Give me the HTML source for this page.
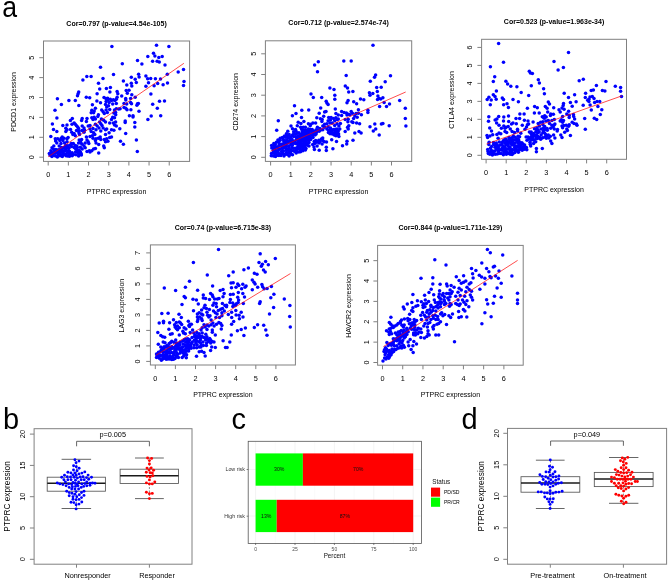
<!DOCTYPE html>
<html><head><meta charset="utf-8"><style>
html,body{margin:0;padding:0;background:#fff;}
svg{display:block;font-family:"Liberation Sans", sans-serif;will-change:transform;}
text{-webkit-font-smoothing:antialiased;}
body{-webkit-font-smoothing:antialiased;}
.g{will-change:transform;}
</style></head><body>
<svg width="668" height="583" viewBox="0 0 668 583">
<rect width="668" height="583" fill="#fff"/>
<text x="116.55" y="25.70" font-size="7" text-anchor="middle" fill="#000" font-weight="bold">Cor=0.797 (p-value=4.54e-105)</text>
<g fill="#0000ff">
<circle cx="111.9" cy="46.5" r="1.75"/>
<circle cx="100.5" cy="67.3" r="1.75"/>
<circle cx="113.5" cy="74.6" r="1.75"/>
<circle cx="86.8" cy="76.6" r="1.75"/>
<circle cx="91.1" cy="76.6" r="1.75"/>
<circle cx="82.9" cy="80.0" r="1.75"/>
<circle cx="103.0" cy="78.4" r="1.75"/>
<circle cx="98.5" cy="83.3" r="1.75"/>
<circle cx="99.7" cy="89.0" r="1.75"/>
<circle cx="106.4" cy="88.5" r="1.75"/>
<circle cx="110.4" cy="87.5" r="1.75"/>
<circle cx="109.9" cy="92.0" r="1.75"/>
<circle cx="117.1" cy="91.6" r="1.75"/>
<circle cx="97.1" cy="93.7" r="1.75"/>
<circle cx="78.7" cy="91.9" r="1.75"/>
<circle cx="78.1" cy="93.7" r="1.75"/>
<circle cx="77.5" cy="95.8" r="1.75"/>
<circle cx="86.3" cy="97.3" r="1.75"/>
<circle cx="89.7" cy="97.8" r="1.75"/>
<circle cx="104.0" cy="97.5" r="1.75"/>
<circle cx="107.6" cy="98.2" r="1.75"/>
<circle cx="105.9" cy="98.4" r="1.75"/>
<circle cx="111.5" cy="100.6" r="1.75"/>
<circle cx="114.9" cy="100.6" r="1.75"/>
<circle cx="117.1" cy="97.3" r="1.75"/>
<circle cx="156.5" cy="45.3" r="1.75"/>
<circle cx="168.9" cy="46.4" r="1.75"/>
<circle cx="153.5" cy="53.2" r="1.75"/>
<circle cx="154.9" cy="56.1" r="1.75"/>
<circle cx="147.8" cy="56.6" r="1.75"/>
<circle cx="158.8" cy="57.4" r="1.75"/>
<circle cx="162.2" cy="56.5" r="1.75"/>
<circle cx="137.5" cy="60.4" r="1.75"/>
<circle cx="152.6" cy="61.3" r="1.75"/>
<circle cx="157.1" cy="61.3" r="1.75"/>
<circle cx="159.3" cy="62.1" r="1.75"/>
<circle cx="141.9" cy="64.1" r="1.75"/>
<circle cx="122.3" cy="63.8" r="1.75"/>
<circle cx="165.0" cy="65.0" r="1.75"/>
<circle cx="183.5" cy="69.5" r="1.75"/>
<circle cx="178.2" cy="72.0" r="1.75"/>
<circle cx="167.3" cy="74.2" r="1.75"/>
<circle cx="138.6" cy="74.2" r="1.75"/>
<circle cx="139.1" cy="77.0" r="1.75"/>
<circle cx="145.9" cy="75.9" r="1.75"/>
<circle cx="131.3" cy="77.3" r="1.75"/>
<circle cx="147.6" cy="78.7" r="1.75"/>
<circle cx="150.7" cy="78.4" r="1.75"/>
<circle cx="135.2" cy="79.3" r="1.75"/>
<circle cx="136.3" cy="82.4" r="1.75"/>
<circle cx="155.4" cy="78.7" r="1.75"/>
<circle cx="160.5" cy="79.1" r="1.75"/>
<circle cx="123.4" cy="81.0" r="1.75"/>
<circle cx="131.3" cy="83.2" r="1.75"/>
<circle cx="131.8" cy="86.0" r="1.75"/>
<circle cx="126.8" cy="85.1" r="1.75"/>
<circle cx="148.5" cy="82.7" r="1.75"/>
<circle cx="157.7" cy="83.6" r="1.75"/>
<circle cx="154.1" cy="85.8" r="1.75"/>
<circle cx="145.9" cy="86.3" r="1.75"/>
<circle cx="163.1" cy="84.7" r="1.75"/>
<circle cx="167.5" cy="82.9" r="1.75"/>
<circle cx="184.0" cy="81.5" r="1.75"/>
<circle cx="183.5" cy="85.5" r="1.75"/>
<circle cx="126.2" cy="90.5" r="1.75"/>
<circle cx="129.0" cy="90.2" r="1.75"/>
<circle cx="117.8" cy="93.7" r="1.75"/>
<circle cx="127.3" cy="93.3" r="1.75"/>
<circle cx="131.8" cy="94.7" r="1.75"/>
<circle cx="150.9" cy="94.1" r="1.75"/>
<circle cx="121.7" cy="96.1" r="1.75"/>
<circle cx="125.7" cy="98.4" r="1.75"/>
<circle cx="135.2" cy="97.3" r="1.75"/>
<circle cx="57.4" cy="98.7" r="1.75"/>
<circle cx="68.9" cy="100.5" r="1.75"/>
<circle cx="75.3" cy="100.5" r="1.75"/>
<circle cx="61.4" cy="104.6" r="1.75"/>
<circle cx="78.8" cy="105.6" r="1.75"/>
<circle cx="55.0" cy="110.3" r="1.75"/>
<circle cx="56.9" cy="118.1" r="1.75"/>
<circle cx="72.3" cy="118.5" r="1.75"/>
<circle cx="70.4" cy="120.5" r="1.75"/>
<circle cx="82.2" cy="118.4" r="1.75"/>
<circle cx="81.6" cy="120.5" r="1.75"/>
<circle cx="52.4" cy="124.0" r="1.75"/>
<circle cx="62.8" cy="125.4" r="1.75"/>
<circle cx="67.0" cy="125.1" r="1.75"/>
<circle cx="72.0" cy="124.3" r="1.75"/>
<circle cx="74.1" cy="122.9" r="1.75"/>
<circle cx="75.3" cy="124.3" r="1.75"/>
<circle cx="76.5" cy="125.8" r="1.75"/>
<circle cx="77.7" cy="127.0" r="1.75"/>
<circle cx="78.6" cy="128.5" r="1.75"/>
<circle cx="53.5" cy="129.6" r="1.75"/>
<circle cx="65.8" cy="128.2" r="1.75"/>
<circle cx="70.5" cy="129.6" r="1.75"/>
<circle cx="67.0" cy="129.7" r="1.75"/>
<circle cx="56.8" cy="131.5" r="1.75"/>
<circle cx="65.8" cy="131.5" r="1.75"/>
<circle cx="82.2" cy="126.1" r="1.75"/>
<circle cx="78.9" cy="130.9" r="1.75"/>
<circle cx="96.9" cy="101.0" r="1.75"/>
<circle cx="100.5" cy="102.7" r="1.75"/>
<circle cx="92.4" cy="104.7" r="1.75"/>
<circle cx="107.9" cy="99.8" r="1.75"/>
<circle cx="110.3" cy="99.2" r="1.75"/>
<circle cx="113.3" cy="99.8" r="1.75"/>
<circle cx="116.3" cy="99.2" r="1.75"/>
<circle cx="106.1" cy="101.6" r="1.75"/>
<circle cx="109.1" cy="102.5" r="1.75"/>
<circle cx="112.7" cy="104.0" r="1.75"/>
<circle cx="116.3" cy="103.4" r="1.75"/>
<circle cx="105.5" cy="104.6" r="1.75"/>
<circle cx="106.7" cy="107.0" r="1.75"/>
<circle cx="108.5" cy="105.8" r="1.75"/>
<circle cx="109.7" cy="109.4" r="1.75"/>
<circle cx="106.1" cy="110.0" r="1.75"/>
<circle cx="95.4" cy="108.2" r="1.75"/>
<circle cx="91.8" cy="110.3" r="1.75"/>
<circle cx="94.2" cy="110.9" r="1.75"/>
<circle cx="91.2" cy="112.7" r="1.75"/>
<circle cx="93.6" cy="112.7" r="1.75"/>
<circle cx="101.7" cy="110.0" r="1.75"/>
<circle cx="103.1" cy="111.8" r="1.75"/>
<circle cx="104.3" cy="113.6" r="1.75"/>
<circle cx="107.3" cy="112.4" r="1.75"/>
<circle cx="114.5" cy="110.0" r="1.75"/>
<circle cx="116.3" cy="108.8" r="1.75"/>
<circle cx="113.9" cy="113.0" r="1.75"/>
<circle cx="115.7" cy="114.8" r="1.75"/>
<circle cx="98.4" cy="114.8" r="1.75"/>
<circle cx="97.8" cy="116.6" r="1.75"/>
<circle cx="91.8" cy="117.8" r="1.75"/>
<circle cx="94.2" cy="117.2" r="1.75"/>
<circle cx="95.4" cy="119.0" r="1.75"/>
<circle cx="93.0" cy="119.6" r="1.75"/>
<circle cx="87.0" cy="118.4" r="1.75"/>
<circle cx="86.4" cy="121.4" r="1.75"/>
<circle cx="101.4" cy="119.0" r="1.75"/>
<circle cx="103.7" cy="120.2" r="1.75"/>
<circle cx="105.5" cy="122.0" r="1.75"/>
<circle cx="99.6" cy="122.0" r="1.75"/>
<circle cx="100.8" cy="123.7" r="1.75"/>
<circle cx="111.5" cy="119.6" r="1.75"/>
<circle cx="112.7" cy="117.2" r="1.75"/>
<circle cx="114.5" cy="117.8" r="1.75"/>
<circle cx="109.7" cy="123.1" r="1.75"/>
<circle cx="113.3" cy="123.1" r="1.75"/>
<circle cx="114.5" cy="124.9" r="1.75"/>
<circle cx="116.3" cy="126.1" r="1.75"/>
<circle cx="84.0" cy="127.9" r="1.75"/>
<circle cx="88.2" cy="126.1" r="1.75"/>
<circle cx="90.0" cy="125.5" r="1.75"/>
<circle cx="95.4" cy="124.3" r="1.75"/>
<circle cx="97.2" cy="126.1" r="1.75"/>
<circle cx="99.0" cy="127.9" r="1.75"/>
<circle cx="102.0" cy="125.5" r="1.75"/>
<circle cx="103.1" cy="127.9" r="1.75"/>
<circle cx="105.5" cy="129.7" r="1.75"/>
<circle cx="106.7" cy="129.1" r="1.75"/>
<circle cx="111.5" cy="129.7" r="1.75"/>
<circle cx="113.9" cy="130.3" r="1.75"/>
<circle cx="84.6" cy="130.3" r="1.75"/>
<circle cx="90.0" cy="129.1" r="1.75"/>
<circle cx="93.0" cy="128.5" r="1.75"/>
<circle cx="96.0" cy="129.7" r="1.75"/>
<circle cx="100.8" cy="130.9" r="1.75"/>
<circle cx="78.9" cy="132.8" r="1.75"/>
<circle cx="84.0" cy="132.2" r="1.75"/>
<circle cx="91.2" cy="131.6" r="1.75"/>
<circle cx="93.6" cy="132.8" r="1.75"/>
<circle cx="94.8" cy="134.6" r="1.75"/>
<circle cx="105.5" cy="134.6" r="1.75"/>
<circle cx="109.1" cy="132.8" r="1.75"/>
<circle cx="86.4" cy="137.0" r="1.75"/>
<circle cx="90.0" cy="136.4" r="1.75"/>
<circle cx="92.4" cy="135.8" r="1.75"/>
<circle cx="93.0" cy="138.2" r="1.75"/>
<circle cx="96.0" cy="138.8" r="1.75"/>
<circle cx="98.4" cy="138.2" r="1.75"/>
<circle cx="100.2" cy="137.0" r="1.75"/>
<circle cx="100.8" cy="139.4" r="1.75"/>
<circle cx="87.0" cy="140.0" r="1.75"/>
<circle cx="88.2" cy="141.8" r="1.75"/>
<circle cx="85.2" cy="143.0" r="1.75"/>
<circle cx="88.8" cy="143.6" r="1.75"/>
<circle cx="95.4" cy="140.6" r="1.75"/>
<circle cx="96.0" cy="143.0" r="1.75"/>
<circle cx="98.7" cy="144.5" r="1.75"/>
<circle cx="104.3" cy="139.4" r="1.75"/>
<circle cx="105.5" cy="141.8" r="1.75"/>
<circle cx="107.9" cy="141.2" r="1.75"/>
<circle cx="109.7" cy="137.6" r="1.75"/>
<circle cx="111.5" cy="137.0" r="1.75"/>
<circle cx="106.7" cy="138.8" r="1.75"/>
<circle cx="103.7" cy="146.0" r="1.75"/>
<circle cx="104.3" cy="147.8" r="1.75"/>
<circle cx="79.2" cy="140.0" r="1.75"/>
<circle cx="81.6" cy="139.4" r="1.75"/>
<circle cx="78.6" cy="143.0" r="1.75"/>
<circle cx="82.2" cy="144.2" r="1.75"/>
<circle cx="84.0" cy="146.0" r="1.75"/>
<circle cx="80.4" cy="147.2" r="1.75"/>
<circle cx="85.2" cy="147.8" r="1.75"/>
<circle cx="82.2" cy="149.0" r="1.75"/>
<circle cx="79.2" cy="150.2" r="1.75"/>
<circle cx="80.4" cy="152.0" r="1.75"/>
<circle cx="78.6" cy="153.7" r="1.75"/>
<circle cx="78.6" cy="156.1" r="1.75"/>
<circle cx="87.0" cy="151.4" r="1.75"/>
<circle cx="89.4" cy="150.8" r="1.75"/>
<circle cx="91.8" cy="150.8" r="1.75"/>
<circle cx="93.6" cy="149.0" r="1.75"/>
<circle cx="95.4" cy="148.4" r="1.75"/>
<circle cx="98.7" cy="153.1" r="1.75"/>
<circle cx="90.0" cy="152.0" r="1.75"/>
<circle cx="125.8" cy="100.1" r="1.75"/>
<circle cx="130.6" cy="98.6" r="1.75"/>
<circle cx="124.0" cy="103.4" r="1.75"/>
<circle cx="126.7" cy="104.0" r="1.75"/>
<circle cx="130.6" cy="102.5" r="1.75"/>
<circle cx="131.5" cy="103.7" r="1.75"/>
<circle cx="137.5" cy="103.7" r="1.75"/>
<circle cx="138.4" cy="103.4" r="1.75"/>
<circle cx="136.9" cy="105.2" r="1.75"/>
<circle cx="152.7" cy="104.3" r="1.75"/>
<circle cx="118.6" cy="109.1" r="1.75"/>
<circle cx="120.1" cy="108.8" r="1.75"/>
<circle cx="124.0" cy="107.6" r="1.75"/>
<circle cx="125.8" cy="108.2" r="1.75"/>
<circle cx="127.0" cy="109.7" r="1.75"/>
<circle cx="130.9" cy="109.7" r="1.75"/>
<circle cx="139.0" cy="111.2" r="1.75"/>
<circle cx="115.6" cy="112.4" r="1.75"/>
<circle cx="129.4" cy="115.7" r="1.75"/>
<circle cx="133.0" cy="115.7" r="1.75"/>
<circle cx="133.0" cy="116.9" r="1.75"/>
<circle cx="151.2" cy="116.0" r="1.75"/>
<circle cx="147.9" cy="119.6" r="1.75"/>
<circle cx="125.2" cy="121.1" r="1.75"/>
<circle cx="125.2" cy="122.6" r="1.75"/>
<circle cx="134.8" cy="122.6" r="1.75"/>
<circle cx="134.8" cy="127.0" r="1.75"/>
<circle cx="115.6" cy="122.0" r="1.75"/>
<circle cx="119.8" cy="128.8" r="1.75"/>
<circle cx="159.5" cy="101.3" r="1.75"/>
<circle cx="164.5" cy="101.0" r="1.75"/>
<circle cx="157.3" cy="108.2" r="1.75"/>
<circle cx="160.7" cy="115.8" r="1.75"/>
<circle cx="125.7" cy="133.5" r="1.75"/>
<circle cx="120.5" cy="141.3" r="1.75"/>
<circle cx="123.4" cy="144.3" r="1.75"/>
<circle cx="136.4" cy="139.9" r="1.75"/>
<circle cx="137.3" cy="151.4" r="1.75"/>
<circle cx="50.8" cy="136.4" r="1.75"/>
<circle cx="62.2" cy="137.0" r="1.75"/>
<circle cx="64.0" cy="138.2" r="1.75"/>
<circle cx="55.3" cy="138.8" r="1.75"/>
<circle cx="57.7" cy="138.8" r="1.75"/>
<circle cx="61.0" cy="138.5" r="1.75"/>
<circle cx="68.1" cy="137.6" r="1.75"/>
<circle cx="55.6" cy="140.9" r="1.75"/>
<circle cx="56.8" cy="143.0" r="1.75"/>
<circle cx="59.8" cy="140.6" r="1.75"/>
<circle cx="53.8" cy="146.0" r="1.75"/>
<circle cx="59.2" cy="146.0" r="1.75"/>
<circle cx="52.0" cy="147.8" r="1.75"/>
<circle cx="71.7" cy="132.2" r="1.75"/>
<circle cx="74.1" cy="133.4" r="1.75"/>
<circle cx="76.5" cy="130.4" r="1.75"/>
<circle cx="79.5" cy="134.6" r="1.75"/>
<circle cx="75.3" cy="135.8" r="1.75"/>
<circle cx="72.9" cy="134.6" r="1.75"/>
<circle cx="81.9" cy="130.4" r="1.75"/>
<circle cx="62.8" cy="140.6" r="1.75"/>
<circle cx="64.6" cy="143.0" r="1.75"/>
<circle cx="67.0" cy="138.8" r="1.75"/>
<circle cx="61.0" cy="143.6" r="1.75"/>
<circle cx="67.0" cy="141.8" r="1.75"/>
<circle cx="62.4" cy="154.7" r="1.75"/>
<circle cx="67.9" cy="145.8" r="1.75"/>
<circle cx="58.2" cy="154.4" r="1.75"/>
<circle cx="53.7" cy="149.6" r="1.75"/>
<circle cx="70.1" cy="145.3" r="1.75"/>
<circle cx="71.6" cy="146.4" r="1.75"/>
<circle cx="58.4" cy="149.7" r="1.75"/>
<circle cx="75.6" cy="152.0" r="1.75"/>
<circle cx="55.9" cy="149.4" r="1.75"/>
<circle cx="66.0" cy="155.7" r="1.75"/>
<circle cx="73.3" cy="143.5" r="1.75"/>
<circle cx="64.2" cy="151.3" r="1.75"/>
<circle cx="61.0" cy="151.4" r="1.75"/>
<circle cx="49.3" cy="153.5" r="1.75"/>
<circle cx="60.0" cy="155.8" r="1.75"/>
<circle cx="60.4" cy="149.3" r="1.75"/>
<circle cx="65.7" cy="150.3" r="1.75"/>
<circle cx="50.9" cy="150.7" r="1.75"/>
<circle cx="63.9" cy="147.6" r="1.75"/>
<circle cx="78.1" cy="152.0" r="1.75"/>
<circle cx="53.2" cy="153.5" r="1.75"/>
<circle cx="66.3" cy="153.7" r="1.75"/>
<circle cx="56.5" cy="151.9" r="1.75"/>
<circle cx="69.5" cy="156.2" r="1.75"/>
<circle cx="77.3" cy="147.5" r="1.75"/>
<circle cx="70.6" cy="154.1" r="1.75"/>
<circle cx="74.1" cy="147.5" r="1.75"/>
<circle cx="51.9" cy="156.4" r="1.75"/>
<circle cx="62.3" cy="156.5" r="1.75"/>
<circle cx="65.2" cy="148.6" r="1.75"/>
<circle cx="69.1" cy="148.0" r="1.75"/>
<circle cx="72.2" cy="155.7" r="1.75"/>
<circle cx="80.9" cy="142.9" r="1.75"/>
<circle cx="61.5" cy="147.6" r="1.75"/>
<circle cx="67.6" cy="152.1" r="1.75"/>
<circle cx="50.2" cy="155.3" r="1.75"/>
<circle cx="73.5" cy="154.4" r="1.75"/>
<circle cx="76.0" cy="154.7" r="1.75"/>
<circle cx="69.6" cy="151.6" r="1.75"/>
<circle cx="71.4" cy="143.6" r="1.75"/>
<circle cx="55.5" cy="156.1" r="1.75"/>
<circle cx="57.4" cy="156.9" r="1.75"/>
<circle cx="57.9" cy="152.8" r="1.75"/>
<circle cx="67.6" cy="155.9" r="1.75"/>
<circle cx="81.4" cy="155.1" r="1.75"/>
<circle cx="55.1" cy="153.3" r="1.75"/>
<circle cx="80.4" cy="141.4" r="1.75"/>
<circle cx="64.2" cy="154.5" r="1.75"/>
<circle cx="68.5" cy="150.4" r="1.75"/>
<circle cx="75.7" cy="148.9" r="1.75"/>
<circle cx="65.7" cy="145.5" r="1.75"/>
<circle cx="62.2" cy="149.6" r="1.75"/>
<circle cx="60.1" cy="153.4" r="1.75"/>
<circle cx="62.8" cy="152.6" r="1.75"/>
<circle cx="72.2" cy="152.8" r="1.75"/>
<circle cx="75.1" cy="145.6" r="1.75"/>
<circle cx="54.7" cy="151.7" r="1.75"/>
<circle cx="69.0" cy="153.7" r="1.75"/>
<circle cx="76.8" cy="145.9" r="1.75"/>
<circle cx="53.1" cy="155.4" r="1.75"/>
<circle cx="81.1" cy="153.4" r="1.75"/>
<circle cx="51.5" cy="152.3" r="1.75"/>
<circle cx="77.3" cy="150.2" r="1.75"/>
<circle cx="67.1" cy="147.7" r="1.75"/>
<circle cx="58.7" cy="151.3" r="1.75"/>
<circle cx="51.2" cy="153.9" r="1.75"/>
</g>
<line x1="48.20" y1="156.80" x2="183.90" y2="63.30" stroke="#ff0000" stroke-width="0.7"/>
<rect x="43.50" y="41.00" width="146.10" height="120.40" fill="none" stroke="#808080" stroke-width="1.0"/>
<line x1="48.20" y1="161.40" x2="48.20" y2="165.50" stroke="#808080" stroke-width="1.0"/>
<text x="48.20" y="177.00" font-size="7.3" text-anchor="middle" fill="#000">0</text>
<line x1="68.37" y1="161.40" x2="68.37" y2="165.50" stroke="#808080" stroke-width="1.0"/>
<text x="68.37" y="177.00" font-size="7.3" text-anchor="middle" fill="#000">1</text>
<line x1="88.54" y1="161.40" x2="88.54" y2="165.50" stroke="#808080" stroke-width="1.0"/>
<text x="88.54" y="177.00" font-size="7.3" text-anchor="middle" fill="#000">2</text>
<line x1="108.71" y1="161.40" x2="108.71" y2="165.50" stroke="#808080" stroke-width="1.0"/>
<text x="108.71" y="177.00" font-size="7.3" text-anchor="middle" fill="#000">3</text>
<line x1="128.88" y1="161.40" x2="128.88" y2="165.50" stroke="#808080" stroke-width="1.0"/>
<text x="128.88" y="177.00" font-size="7.3" text-anchor="middle" fill="#000">4</text>
<line x1="149.05" y1="161.40" x2="149.05" y2="165.50" stroke="#808080" stroke-width="1.0"/>
<text x="149.05" y="177.00" font-size="7.3" text-anchor="middle" fill="#000">5</text>
<line x1="169.22" y1="161.40" x2="169.22" y2="165.50" stroke="#808080" stroke-width="1.0"/>
<text x="169.22" y="177.00" font-size="7.3" text-anchor="middle" fill="#000">6</text>
<line x1="43.50" y1="157.20" x2="39.30" y2="157.20" stroke="#808080" stroke-width="1.0"/>
<text transform="translate(33.90,157.20) rotate(-90)" font-size="7.3" text-anchor="middle" fill="#000">0</text>
<line x1="43.50" y1="137.30" x2="39.30" y2="137.30" stroke="#808080" stroke-width="1.0"/>
<text transform="translate(33.90,137.30) rotate(-90)" font-size="7.3" text-anchor="middle" fill="#000">1</text>
<line x1="43.50" y1="117.40" x2="39.30" y2="117.40" stroke="#808080" stroke-width="1.0"/>
<text transform="translate(33.90,117.40) rotate(-90)" font-size="7.3" text-anchor="middle" fill="#000">2</text>
<line x1="43.50" y1="97.50" x2="39.30" y2="97.50" stroke="#808080" stroke-width="1.0"/>
<text transform="translate(33.90,97.50) rotate(-90)" font-size="7.3" text-anchor="middle" fill="#000">3</text>
<line x1="43.50" y1="77.60" x2="39.30" y2="77.60" stroke="#808080" stroke-width="1.0"/>
<text transform="translate(33.90,77.60) rotate(-90)" font-size="7.3" text-anchor="middle" fill="#000">4</text>
<line x1="43.50" y1="57.70" x2="39.30" y2="57.70" stroke="#808080" stroke-width="1.0"/>
<text transform="translate(33.90,57.70) rotate(-90)" font-size="7.3" text-anchor="middle" fill="#000">5</text>
<text x="116.55" y="193.80" font-size="7" text-anchor="middle" fill="#000">PTPRC expression</text>
<text transform="translate(16.40,101.90) rotate(-90)" font-size="7" text-anchor="middle" fill="#000">PDCD1 expression</text>
<text x="338.55" y="25.30" font-size="7" text-anchor="middle" fill="#000" font-weight="bold">Cor=0.712 (p-value=2.574e-74)</text>
<g fill="#0000ff">
<circle cx="318.3" cy="61.7" r="1.75"/>
<circle cx="314.6" cy="64.9" r="1.75"/>
<circle cx="317.5" cy="71.8" r="1.75"/>
<circle cx="329.9" cy="87.9" r="1.75"/>
<circle cx="334.0" cy="89.4" r="1.75"/>
<circle cx="311.0" cy="93.9" r="1.75"/>
<circle cx="313.3" cy="97.6" r="1.75"/>
<circle cx="321.7" cy="97.6" r="1.75"/>
<circle cx="326.2" cy="101.2" r="1.75"/>
<circle cx="334.8" cy="95.3" r="1.75"/>
<circle cx="334.8" cy="99.2" r="1.75"/>
<circle cx="373.0" cy="45.3" r="1.75"/>
<circle cx="343.8" cy="60.9" r="1.75"/>
<circle cx="351.2" cy="60.9" r="1.75"/>
<circle cx="346.2" cy="75.4" r="1.75"/>
<circle cx="375.6" cy="75.0" r="1.75"/>
<circle cx="374.5" cy="77.3" r="1.75"/>
<circle cx="390.5" cy="75.7" r="1.75"/>
<circle cx="370.3" cy="81.2" r="1.75"/>
<circle cx="385.2" cy="81.8" r="1.75"/>
<circle cx="345.3" cy="86.0" r="1.75"/>
<circle cx="347.5" cy="88.1" r="1.75"/>
<circle cx="376.7" cy="87.5" r="1.75"/>
<circle cx="381.2" cy="87.2" r="1.75"/>
<circle cx="348.7" cy="92.0" r="1.75"/>
<circle cx="352.9" cy="91.6" r="1.75"/>
<circle cx="377.3" cy="91.6" r="1.75"/>
<circle cx="369.4" cy="92.8" r="1.75"/>
<circle cx="372.8" cy="93.6" r="1.75"/>
<circle cx="370.0" cy="95.3" r="1.75"/>
<circle cx="377.9" cy="96.1" r="1.75"/>
<circle cx="379.0" cy="98.4" r="1.75"/>
<circle cx="382.9" cy="97.8" r="1.75"/>
<circle cx="380.7" cy="98.9" r="1.75"/>
<circle cx="360.5" cy="98.9" r="1.75"/>
<circle cx="363.8" cy="99.7" r="1.75"/>
<circle cx="348.1" cy="100.6" r="1.75"/>
<circle cx="353.7" cy="101.7" r="1.75"/>
<circle cx="399.7" cy="100.6" r="1.75"/>
<circle cx="294.5" cy="105.7" r="1.75"/>
<circle cx="301.8" cy="110.3" r="1.75"/>
<circle cx="296.0" cy="113.4" r="1.75"/>
<circle cx="292.4" cy="115.7" r="1.75"/>
<circle cx="301.5" cy="117.5" r="1.75"/>
<circle cx="278.3" cy="120.8" r="1.75"/>
<circle cx="298.2" cy="122.3" r="1.75"/>
<circle cx="300.9" cy="123.4" r="1.75"/>
<circle cx="303.9" cy="121.5" r="1.75"/>
<circle cx="297.3" cy="125.8" r="1.75"/>
<circle cx="291.0" cy="126.1" r="1.75"/>
<circle cx="292.5" cy="128.8" r="1.75"/>
<circle cx="295.5" cy="129.4" r="1.75"/>
<circle cx="300.6" cy="127.3" r="1.75"/>
<circle cx="301.5" cy="129.1" r="1.75"/>
<circle cx="303.9" cy="130.3" r="1.75"/>
<circle cx="276.7" cy="130.3" r="1.75"/>
<circle cx="287.8" cy="131.2" r="1.75"/>
<circle cx="296.1" cy="131.2" r="1.75"/>
<circle cx="303.3" cy="127.3" r="1.75"/>
<circle cx="326.9" cy="103.1" r="1.75"/>
<circle cx="328.1" cy="104.6" r="1.75"/>
<circle cx="320.7" cy="107.9" r="1.75"/>
<circle cx="335.3" cy="109.1" r="1.75"/>
<circle cx="308.7" cy="110.0" r="1.75"/>
<circle cx="319.2" cy="113.3" r="1.75"/>
<circle cx="324.6" cy="112.1" r="1.75"/>
<circle cx="326.0" cy="111.5" r="1.75"/>
<circle cx="335.9" cy="113.6" r="1.75"/>
<circle cx="338.3" cy="115.1" r="1.75"/>
<circle cx="316.8" cy="117.8" r="1.75"/>
<circle cx="323.7" cy="116.3" r="1.75"/>
<circle cx="320.4" cy="118.7" r="1.75"/>
<circle cx="322.2" cy="119.6" r="1.75"/>
<circle cx="321.9" cy="121.4" r="1.75"/>
<circle cx="328.7" cy="117.5" r="1.75"/>
<circle cx="331.1" cy="117.5" r="1.75"/>
<circle cx="333.5" cy="118.4" r="1.75"/>
<circle cx="335.9" cy="117.8" r="1.75"/>
<circle cx="338.3" cy="119.0" r="1.75"/>
<circle cx="328.1" cy="120.8" r="1.75"/>
<circle cx="330.5" cy="119.9" r="1.75"/>
<circle cx="334.7" cy="120.8" r="1.75"/>
<circle cx="337.1" cy="119.6" r="1.75"/>
<circle cx="308.4" cy="123.7" r="1.75"/>
<circle cx="310.8" cy="124.3" r="1.75"/>
<circle cx="312.9" cy="122.9" r="1.75"/>
<circle cx="315.6" cy="123.1" r="1.75"/>
<circle cx="310.2" cy="125.8" r="1.75"/>
<circle cx="305.4" cy="127.3" r="1.75"/>
<circle cx="308.4" cy="129.1" r="1.75"/>
<circle cx="309.6" cy="130.9" r="1.75"/>
<circle cx="317.4" cy="127.3" r="1.75"/>
<circle cx="316.2" cy="129.7" r="1.75"/>
<circle cx="313.8" cy="130.9" r="1.75"/>
<circle cx="322.8" cy="126.1" r="1.75"/>
<circle cx="324.6" cy="124.3" r="1.75"/>
<circle cx="326.9" cy="123.7" r="1.75"/>
<circle cx="329.9" cy="123.1" r="1.75"/>
<circle cx="332.3" cy="123.1" r="1.75"/>
<circle cx="328.1" cy="126.7" r="1.75"/>
<circle cx="326.9" cy="129.1" r="1.75"/>
<circle cx="328.7" cy="130.3" r="1.75"/>
<circle cx="330.5" cy="127.9" r="1.75"/>
<circle cx="331.7" cy="130.3" r="1.75"/>
<circle cx="334.7" cy="125.5" r="1.75"/>
<circle cx="337.1" cy="123.7" r="1.75"/>
<circle cx="338.9" cy="126.1" r="1.75"/>
<circle cx="337.1" cy="129.1" r="1.75"/>
<circle cx="334.7" cy="130.9" r="1.75"/>
<circle cx="338.3" cy="130.9" r="1.75"/>
<circle cx="324.6" cy="127.3" r="1.75"/>
<circle cx="322.8" cy="129.7" r="1.75"/>
<circle cx="319.8" cy="128.5" r="1.75"/>
<circle cx="347.0" cy="102.8" r="1.75"/>
<circle cx="377.5" cy="99.5" r="1.75"/>
<circle cx="356.6" cy="103.7" r="1.75"/>
<circle cx="358.4" cy="109.7" r="1.75"/>
<circle cx="367.9" cy="110.3" r="1.75"/>
<circle cx="367.9" cy="112.4" r="1.75"/>
<circle cx="341.6" cy="111.5" r="1.75"/>
<circle cx="344.0" cy="112.4" r="1.75"/>
<circle cx="346.4" cy="113.0" r="1.75"/>
<circle cx="348.5" cy="114.2" r="1.75"/>
<circle cx="351.2" cy="111.5" r="1.75"/>
<circle cx="352.4" cy="113.3" r="1.75"/>
<circle cx="350.0" cy="114.8" r="1.75"/>
<circle cx="347.0" cy="115.1" r="1.75"/>
<circle cx="341.6" cy="115.4" r="1.75"/>
<circle cx="356.0" cy="113.6" r="1.75"/>
<circle cx="358.4" cy="113.3" r="1.75"/>
<circle cx="361.4" cy="114.8" r="1.75"/>
<circle cx="354.8" cy="116.0" r="1.75"/>
<circle cx="357.2" cy="117.2" r="1.75"/>
<circle cx="353.6" cy="118.4" r="1.75"/>
<circle cx="345.2" cy="119.6" r="1.75"/>
<circle cx="348.2" cy="119.3" r="1.75"/>
<circle cx="347.9" cy="121.7" r="1.75"/>
<circle cx="351.8" cy="121.7" r="1.75"/>
<circle cx="353.0" cy="122.6" r="1.75"/>
<circle cx="356.6" cy="123.1" r="1.75"/>
<circle cx="359.6" cy="123.7" r="1.75"/>
<circle cx="340.4" cy="123.4" r="1.75"/>
<circle cx="339.8" cy="129.1" r="1.75"/>
<circle cx="348.8" cy="125.8" r="1.75"/>
<circle cx="347.6" cy="127.3" r="1.75"/>
<circle cx="348.2" cy="129.1" r="1.75"/>
<circle cx="345.2" cy="131.5" r="1.75"/>
<circle cx="359.0" cy="131.5" r="1.75"/>
<circle cx="370.0" cy="126.7" r="1.75"/>
<circle cx="374.8" cy="124.0" r="1.75"/>
<circle cx="375.7" cy="129.1" r="1.75"/>
<circle cx="373.3" cy="130.9" r="1.75"/>
<circle cx="384.1" cy="102.5" r="1.75"/>
<circle cx="379.6" cy="106.5" r="1.75"/>
<circle cx="386.5" cy="106.4" r="1.75"/>
<circle cx="389.5" cy="104.0" r="1.75"/>
<circle cx="405.3" cy="108.3" r="1.75"/>
<circle cx="405.3" cy="118.4" r="1.75"/>
<circle cx="381.4" cy="124.0" r="1.75"/>
<circle cx="382.9" cy="123.4" r="1.75"/>
<circle cx="389.2" cy="125.8" r="1.75"/>
<circle cx="405.9" cy="126.0" r="1.75"/>
<circle cx="331.7" cy="139.7" r="1.75"/>
<circle cx="336.5" cy="141.5" r="1.75"/>
<circle cx="326.3" cy="147.2" r="1.75"/>
<circle cx="326.3" cy="150.5" r="1.75"/>
<circle cx="332.9" cy="148.7" r="1.75"/>
<circle cx="319.2" cy="150.2" r="1.75"/>
<circle cx="314.4" cy="149.6" r="1.75"/>
<circle cx="309.0" cy="146.0" r="1.75"/>
<circle cx="306.0" cy="148.4" r="1.75"/>
<circle cx="305.4" cy="149.9" r="1.75"/>
<circle cx="354.8" cy="132.9" r="1.75"/>
<circle cx="361.1" cy="132.9" r="1.75"/>
<circle cx="338.9" cy="136.4" r="1.75"/>
<circle cx="353.0" cy="140.3" r="1.75"/>
<circle cx="347.0" cy="141.3" r="1.75"/>
<circle cx="346.7" cy="143.9" r="1.75"/>
<circle cx="342.5" cy="145.7" r="1.75"/>
<circle cx="379.2" cy="134.9" r="1.75"/>
<circle cx="297.0" cy="133.2" r="1.75"/>
<circle cx="277.9" cy="140.0" r="1.75"/>
<circle cx="294.6" cy="141.6" r="1.75"/>
<circle cx="301.0" cy="147.2" r="1.75"/>
<circle cx="300.5" cy="145.5" r="1.75"/>
<circle cx="275.5" cy="150.8" r="1.75"/>
<circle cx="281.6" cy="151.4" r="1.75"/>
<circle cx="289.0" cy="152.5" r="1.75"/>
<circle cx="273.5" cy="156.1" r="1.75"/>
<circle cx="293.5" cy="136.6" r="1.75"/>
<circle cx="276.3" cy="142.2" r="1.75"/>
<circle cx="273.4" cy="152.5" r="1.75"/>
<circle cx="279.8" cy="149.2" r="1.75"/>
<circle cx="287.3" cy="154.6" r="1.75"/>
<circle cx="276.0" cy="153.0" r="1.75"/>
<circle cx="286.4" cy="133.8" r="1.75"/>
<circle cx="299.5" cy="140.6" r="1.75"/>
<circle cx="277.2" cy="155.2" r="1.75"/>
<circle cx="286.1" cy="146.0" r="1.75"/>
<circle cx="283.3" cy="139.5" r="1.75"/>
<circle cx="279.2" cy="143.7" r="1.75"/>
<circle cx="278.8" cy="145.7" r="1.75"/>
<circle cx="300.5" cy="151.7" r="1.75"/>
<circle cx="292.0" cy="147.6" r="1.75"/>
<circle cx="282.4" cy="137.4" r="1.75"/>
<circle cx="302.8" cy="149.0" r="1.75"/>
<circle cx="292.0" cy="139.4" r="1.75"/>
<circle cx="289.0" cy="141.0" r="1.75"/>
<circle cx="286.6" cy="139.9" r="1.75"/>
<circle cx="285.6" cy="142.1" r="1.75"/>
<circle cx="289.7" cy="138.0" r="1.75"/>
<circle cx="280.2" cy="138.2" r="1.75"/>
<circle cx="302.8" cy="139.1" r="1.75"/>
<circle cx="284.7" cy="154.4" r="1.75"/>
<circle cx="301.4" cy="137.2" r="1.75"/>
<circle cx="290.9" cy="154.3" r="1.75"/>
<circle cx="292.5" cy="134.9" r="1.75"/>
<circle cx="292.5" cy="141.0" r="1.75"/>
<circle cx="290.7" cy="136.7" r="1.75"/>
<circle cx="302.3" cy="145.6" r="1.75"/>
<circle cx="291.3" cy="150.2" r="1.75"/>
<circle cx="288.6" cy="146.3" r="1.75"/>
<circle cx="289.2" cy="148.3" r="1.75"/>
<circle cx="295.8" cy="136.7" r="1.75"/>
<circle cx="294.8" cy="151.4" r="1.75"/>
<circle cx="297.0" cy="138.2" r="1.75"/>
<circle cx="285.6" cy="137.3" r="1.75"/>
<circle cx="286.4" cy="148.2" r="1.75"/>
<circle cx="289.2" cy="134.5" r="1.75"/>
<circle cx="297.9" cy="142.6" r="1.75"/>
<circle cx="281.0" cy="155.4" r="1.75"/>
<circle cx="273.3" cy="150.5" r="1.75"/>
<circle cx="271.8" cy="147.9" r="1.75"/>
<circle cx="271.6" cy="145.6" r="1.75"/>
<circle cx="284.0" cy="155.9" r="1.75"/>
<circle cx="278.8" cy="141.8" r="1.75"/>
<circle cx="296.4" cy="147.9" r="1.75"/>
<circle cx="296.2" cy="153.1" r="1.75"/>
<circle cx="275.2" cy="149.0" r="1.75"/>
<circle cx="290.7" cy="142.4" r="1.75"/>
<circle cx="300.1" cy="134.5" r="1.75"/>
<circle cx="293.7" cy="131.8" r="1.75"/>
<circle cx="277.8" cy="152.2" r="1.75"/>
<circle cx="287.4" cy="135.9" r="1.75"/>
<circle cx="273.8" cy="143.4" r="1.75"/>
<circle cx="284.0" cy="145.4" r="1.75"/>
<circle cx="293.9" cy="148.2" r="1.75"/>
<circle cx="300.5" cy="150.0" r="1.75"/>
<circle cx="292.4" cy="145.1" r="1.75"/>
<circle cx="299.8" cy="144.0" r="1.75"/>
<circle cx="277.8" cy="147.5" r="1.75"/>
<circle cx="295.9" cy="140.2" r="1.75"/>
<circle cx="278.9" cy="155.6" r="1.75"/>
<circle cx="286.3" cy="150.2" r="1.75"/>
<circle cx="288.0" cy="143.0" r="1.75"/>
<circle cx="298.4" cy="136.1" r="1.75"/>
<circle cx="283.0" cy="153.4" r="1.75"/>
<circle cx="298.0" cy="144.3" r="1.75"/>
<circle cx="286.5" cy="152.4" r="1.75"/>
<circle cx="284.0" cy="148.0" r="1.75"/>
<circle cx="298.3" cy="139.4" r="1.75"/>
<circle cx="293.3" cy="150.7" r="1.75"/>
<circle cx="296.8" cy="151.6" r="1.75"/>
<circle cx="294.7" cy="143.2" r="1.75"/>
<circle cx="281.4" cy="144.2" r="1.75"/>
<circle cx="299.9" cy="136.7" r="1.75"/>
<circle cx="290.2" cy="139.8" r="1.75"/>
<circle cx="298.0" cy="146.4" r="1.75"/>
<circle cx="293.8" cy="133.7" r="1.75"/>
<circle cx="298.9" cy="132.7" r="1.75"/>
<circle cx="290.7" cy="144.9" r="1.75"/>
<circle cx="274.2" cy="146.0" r="1.75"/>
<circle cx="275.5" cy="156.5" r="1.75"/>
<circle cx="281.3" cy="153.7" r="1.75"/>
<circle cx="275.3" cy="144.7" r="1.75"/>
<circle cx="287.9" cy="137.7" r="1.75"/>
<circle cx="290.6" cy="152.0" r="1.75"/>
<circle cx="302.9" cy="141.2" r="1.75"/>
<circle cx="278.2" cy="150.5" r="1.75"/>
<circle cx="286.5" cy="143.6" r="1.75"/>
<circle cx="298.8" cy="152.0" r="1.75"/>
<circle cx="297.7" cy="149.0" r="1.75"/>
<circle cx="281.5" cy="146.5" r="1.75"/>
<circle cx="283.5" cy="143.7" r="1.75"/>
<circle cx="303.4" cy="143.9" r="1.75"/>
<circle cx="282.3" cy="148.4" r="1.75"/>
<circle cx="301.7" cy="143.7" r="1.75"/>
<circle cx="271.5" cy="153.4" r="1.75"/>
<circle cx="283.4" cy="150.9" r="1.75"/>
<circle cx="295.7" cy="134.2" r="1.75"/>
<circle cx="280.1" cy="140.3" r="1.75"/>
<circle cx="302.9" cy="150.8" r="1.75"/>
<circle cx="279.2" cy="153.7" r="1.75"/>
<circle cx="296.3" cy="143.7" r="1.75"/>
<circle cx="292.5" cy="154.7" r="1.75"/>
<circle cx="292.3" cy="142.9" r="1.75"/>
<circle cx="271.3" cy="155.8" r="1.75"/>
<circle cx="283.9" cy="141.4" r="1.75"/>
<circle cx="288.4" cy="150.2" r="1.75"/>
<circle cx="299.8" cy="138.5" r="1.75"/>
<circle cx="274.9" cy="154.3" r="1.75"/>
<circle cx="289.1" cy="156.0" r="1.75"/>
<circle cx="275.9" cy="146.9" r="1.75"/>
<circle cx="300.4" cy="142.0" r="1.75"/>
<circle cx="301.0" cy="139.9" r="1.75"/>
<circle cx="284.5" cy="136.1" r="1.75"/>
<circle cx="299.6" cy="148.0" r="1.75"/>
<circle cx="295.9" cy="150.0" r="1.75"/>
<circle cx="287.4" cy="141.4" r="1.75"/>
<circle cx="273.6" cy="148.3" r="1.75"/>
<circle cx="303.8" cy="135.4" r="1.75"/>
<circle cx="305.4" cy="133.5" r="1.75"/>
<circle cx="308.5" cy="133.3" r="1.75"/>
<circle cx="304.7" cy="146.2" r="1.75"/>
<circle cx="302.3" cy="134.9" r="1.75"/>
<circle cx="309.0" cy="142.6" r="1.75"/>
<circle cx="305.2" cy="139.0" r="1.75"/>
<circle cx="312.2" cy="131.8" r="1.75"/>
<circle cx="304.4" cy="142.5" r="1.75"/>
<circle cx="312.9" cy="133.5" r="1.75"/>
<circle cx="308.9" cy="140.1" r="1.75"/>
<circle cx="316.6" cy="131.9" r="1.75"/>
<circle cx="305.9" cy="130.1" r="1.75"/>
<circle cx="307.2" cy="139.6" r="1.75"/>
<circle cx="307.9" cy="130.7" r="1.75"/>
<circle cx="309.4" cy="135.9" r="1.75"/>
<circle cx="320.7" cy="130.0" r="1.75"/>
<circle cx="312.5" cy="135.5" r="1.75"/>
<circle cx="310.4" cy="133.7" r="1.75"/>
<circle cx="306.6" cy="131.8" r="1.75"/>
<circle cx="307.3" cy="142.7" r="1.75"/>
<circle cx="302.2" cy="132.9" r="1.75"/>
<circle cx="317.8" cy="130.5" r="1.75"/>
<circle cx="309.0" cy="138.4" r="1.75"/>
<circle cx="314.7" cy="133.1" r="1.75"/>
<circle cx="307.5" cy="137.3" r="1.75"/>
<circle cx="307.2" cy="134.7" r="1.75"/>
<circle cx="310.4" cy="137.6" r="1.75"/>
<circle cx="310.7" cy="139.6" r="1.75"/>
<circle cx="305.7" cy="135.7" r="1.75"/>
<circle cx="313.0" cy="137.4" r="1.75"/>
<circle cx="307.5" cy="145.2" r="1.75"/>
<circle cx="306.0" cy="141.7" r="1.75"/>
<circle cx="315.0" cy="135.0" r="1.75"/>
<circle cx="319.2" cy="131.3" r="1.75"/>
<circle cx="312.2" cy="129.5" r="1.75"/>
<circle cx="305.3" cy="144.5" r="1.75"/>
<circle cx="316.1" cy="133.9" r="1.75"/>
<circle cx="304.9" cy="137.3" r="1.75"/>
<circle cx="302.2" cy="131.1" r="1.75"/>
<circle cx="303.4" cy="137.6" r="1.75"/>
<circle cx="305.0" cy="131.7" r="1.75"/>
<circle cx="304.7" cy="140.8" r="1.75"/>
<circle cx="303.7" cy="133.6" r="1.75"/>
<circle cx="310.4" cy="129.5" r="1.75"/>
<circle cx="303.5" cy="147.4" r="1.75"/>
<circle cx="315.7" cy="140.6" r="1.75"/>
<circle cx="318.8" cy="140.3" r="1.75"/>
<circle cx="314.0" cy="147.1" r="1.75"/>
<circle cx="322.8" cy="140.4" r="1.75"/>
<circle cx="322.7" cy="138.1" r="1.75"/>
<circle cx="321.4" cy="139.1" r="1.75"/>
<circle cx="312.7" cy="144.6" r="1.75"/>
<circle cx="317.8" cy="141.9" r="1.75"/>
<circle cx="314.7" cy="143.5" r="1.75"/>
<circle cx="317.1" cy="146.0" r="1.75"/>
<circle cx="320.1" cy="141.6" r="1.75"/>
<circle cx="326.5" cy="142.1" r="1.75"/>
<circle cx="319.1" cy="143.1" r="1.75"/>
<circle cx="314.2" cy="141.5" r="1.75"/>
<circle cx="322.1" cy="144.1" r="1.75"/>
<circle cx="324.3" cy="141.7" r="1.75"/>
<circle cx="316.0" cy="142.3" r="1.75"/>
<circle cx="337.4" cy="132.6" r="1.75"/>
<circle cx="330.0" cy="133.7" r="1.75"/>
<circle cx="332.0" cy="132.3" r="1.75"/>
<circle cx="334.5" cy="133.3" r="1.75"/>
<circle cx="336.1" cy="133.5" r="1.75"/>
<circle cx="337.4" cy="135.0" r="1.75"/>
<circle cx="332.3" cy="134.1" r="1.75"/>
<circle cx="335.9" cy="135.8" r="1.75"/>
<circle cx="329.9" cy="131.9" r="1.75"/>
<circle cx="334.3" cy="135.1" r="1.75"/>
<circle cx="328.4" cy="132.6" r="1.75"/>
<circle cx="335.5" cy="129.3" r="1.75"/>
<circle cx="336.5" cy="131.1" r="1.75"/>
<circle cx="333.4" cy="129.4" r="1.75"/>
<circle cx="338.6" cy="133.9" r="1.75"/>
<circle cx="330.3" cy="129.7" r="1.75"/>
</g>
<line x1="270.50" y1="151.30" x2="405.70" y2="92.00" stroke="#ff0000" stroke-width="0.7"/>
<rect x="265.40" y="40.80" width="146.30" height="120.60" fill="none" stroke="#808080" stroke-width="1.0"/>
<line x1="270.60" y1="161.40" x2="270.60" y2="165.50" stroke="#808080" stroke-width="1.0"/>
<text x="270.60" y="176.60" font-size="7.3" text-anchor="middle" fill="#000">0</text>
<line x1="290.75" y1="161.40" x2="290.75" y2="165.50" stroke="#808080" stroke-width="1.0"/>
<text x="290.75" y="176.60" font-size="7.3" text-anchor="middle" fill="#000">1</text>
<line x1="310.90" y1="161.40" x2="310.90" y2="165.50" stroke="#808080" stroke-width="1.0"/>
<text x="310.90" y="176.60" font-size="7.3" text-anchor="middle" fill="#000">2</text>
<line x1="331.05" y1="161.40" x2="331.05" y2="165.50" stroke="#808080" stroke-width="1.0"/>
<text x="331.05" y="176.60" font-size="7.3" text-anchor="middle" fill="#000">3</text>
<line x1="351.20" y1="161.40" x2="351.20" y2="165.50" stroke="#808080" stroke-width="1.0"/>
<text x="351.20" y="176.60" font-size="7.3" text-anchor="middle" fill="#000">4</text>
<line x1="371.35" y1="161.40" x2="371.35" y2="165.50" stroke="#808080" stroke-width="1.0"/>
<text x="371.35" y="176.60" font-size="7.3" text-anchor="middle" fill="#000">5</text>
<line x1="391.50" y1="161.40" x2="391.50" y2="165.50" stroke="#808080" stroke-width="1.0"/>
<text x="391.50" y="176.60" font-size="7.3" text-anchor="middle" fill="#000">6</text>
<line x1="265.40" y1="157.30" x2="261.20" y2="157.30" stroke="#808080" stroke-width="1.0"/>
<text transform="translate(255.90,157.30) rotate(-90)" font-size="7.3" text-anchor="middle" fill="#000">0</text>
<line x1="265.40" y1="136.60" x2="261.20" y2="136.60" stroke="#808080" stroke-width="1.0"/>
<text transform="translate(255.90,136.60) rotate(-90)" font-size="7.3" text-anchor="middle" fill="#000">1</text>
<line x1="265.40" y1="115.90" x2="261.20" y2="115.90" stroke="#808080" stroke-width="1.0"/>
<text transform="translate(255.90,115.90) rotate(-90)" font-size="7.3" text-anchor="middle" fill="#000">2</text>
<line x1="265.40" y1="95.20" x2="261.20" y2="95.20" stroke="#808080" stroke-width="1.0"/>
<text transform="translate(255.90,95.20) rotate(-90)" font-size="7.3" text-anchor="middle" fill="#000">3</text>
<line x1="265.40" y1="74.50" x2="261.20" y2="74.50" stroke="#808080" stroke-width="1.0"/>
<text transform="translate(255.90,74.50) rotate(-90)" font-size="7.3" text-anchor="middle" fill="#000">4</text>
<line x1="265.40" y1="53.80" x2="261.20" y2="53.80" stroke="#808080" stroke-width="1.0"/>
<text transform="translate(255.90,53.80) rotate(-90)" font-size="7.3" text-anchor="middle" fill="#000">5</text>
<text x="338.55" y="193.80" font-size="7" text-anchor="middle" fill="#000">PTPRC expression</text>
<text transform="translate(238.20,101.80) rotate(-90)" font-size="7" text-anchor="middle" fill="#000">CD274 expression</text>
<text x="554.05" y="23.90" font-size="7" text-anchor="middle" fill="#000" font-weight="bold">Cor=0.523 (p-value=1.963e-34)</text>
<g fill="#0000ff">
<circle cx="498.6" cy="43.6" r="1.75"/>
<circle cx="503.5" cy="62.3" r="1.75"/>
<circle cx="490.4" cy="66.7" r="1.75"/>
<circle cx="554.0" cy="61.6" r="1.75"/>
<circle cx="529.3" cy="71.3" r="1.75"/>
<circle cx="530.4" cy="73.1" r="1.75"/>
<circle cx="532.4" cy="73.6" r="1.75"/>
<circle cx="494.7" cy="76.8" r="1.75"/>
<circle cx="493.3" cy="81.4" r="1.75"/>
<circle cx="505.9" cy="81.3" r="1.75"/>
<circle cx="507.6" cy="84.0" r="1.75"/>
<circle cx="510.8" cy="86.3" r="1.75"/>
<circle cx="516.9" cy="86.8" r="1.75"/>
<circle cx="531.3" cy="85.7" r="1.75"/>
<circle cx="538.3" cy="79.8" r="1.75"/>
<circle cx="539.4" cy="82.9" r="1.75"/>
<circle cx="543.6" cy="88.7" r="1.75"/>
<circle cx="544.4" cy="93.8" r="1.75"/>
<circle cx="496.4" cy="91.1" r="1.75"/>
<circle cx="521.2" cy="92.5" r="1.75"/>
<circle cx="528.7" cy="95.6" r="1.75"/>
<circle cx="493.3" cy="94.7" r="1.75"/>
<circle cx="495.0" cy="96.4" r="1.75"/>
<circle cx="488.9" cy="97.3" r="1.75"/>
<circle cx="496.2" cy="99.2" r="1.75"/>
<circle cx="502.3" cy="98.1" r="1.75"/>
<circle cx="503.5" cy="99.5" r="1.75"/>
<circle cx="513.0" cy="99.5" r="1.75"/>
<circle cx="487.2" cy="99.5" r="1.75"/>
<circle cx="568.5" cy="52.6" r="1.75"/>
<circle cx="563.4" cy="67.4" r="1.75"/>
<circle cx="558.1" cy="70.0" r="1.75"/>
<circle cx="579.2" cy="80.7" r="1.75"/>
<circle cx="583.3" cy="79.3" r="1.75"/>
<circle cx="606.0" cy="81.4" r="1.75"/>
<circle cx="596.4" cy="85.4" r="1.75"/>
<circle cx="615.3" cy="86.3" r="1.75"/>
<circle cx="620.6" cy="87.4" r="1.75"/>
<circle cx="620.6" cy="91.3" r="1.75"/>
<circle cx="621.5" cy="96.4" r="1.75"/>
<circle cx="591.2" cy="90.5" r="1.75"/>
<circle cx="593.4" cy="89.9" r="1.75"/>
<circle cx="602.4" cy="90.5" r="1.75"/>
<circle cx="604.9" cy="91.1" r="1.75"/>
<circle cx="564.2" cy="93.2" r="1.75"/>
<circle cx="574.6" cy="94.7" r="1.75"/>
<circle cx="585.6" cy="93.2" r="1.75"/>
<circle cx="568.5" cy="97.5" r="1.75"/>
<circle cx="585.3" cy="97.5" r="1.75"/>
<circle cx="590.0" cy="96.9" r="1.75"/>
<circle cx="592.3" cy="96.4" r="1.75"/>
<circle cx="594.0" cy="98.6" r="1.75"/>
<circle cx="588.9" cy="99.2" r="1.75"/>
<circle cx="491.2" cy="100.1" r="1.75"/>
<circle cx="518.4" cy="101.7" r="1.75"/>
<circle cx="490.3" cy="104.7" r="1.75"/>
<circle cx="503.6" cy="104.7" r="1.75"/>
<circle cx="507.0" cy="103.7" r="1.75"/>
<circle cx="508.4" cy="107.4" r="1.75"/>
<circle cx="488.8" cy="116.8" r="1.75"/>
<circle cx="488.5" cy="121.3" r="1.75"/>
<circle cx="498.7" cy="116.4" r="1.75"/>
<circle cx="503.8" cy="117.0" r="1.75"/>
<circle cx="508.5" cy="115.9" r="1.75"/>
<circle cx="519.9" cy="114.0" r="1.75"/>
<circle cx="495.1" cy="120.0" r="1.75"/>
<circle cx="496.9" cy="119.1" r="1.75"/>
<circle cx="503.5" cy="121.1" r="1.75"/>
<circle cx="508.7" cy="121.6" r="1.75"/>
<circle cx="516.0" cy="118.5" r="1.75"/>
<circle cx="519.6" cy="118.5" r="1.75"/>
<circle cx="496.6" cy="122.9" r="1.75"/>
<circle cx="499.0" cy="125.3" r="1.75"/>
<circle cx="503.8" cy="125.9" r="1.75"/>
<circle cx="508.2" cy="126.5" r="1.75"/>
<circle cx="511.5" cy="124.1" r="1.75"/>
<circle cx="513.0" cy="122.9" r="1.75"/>
<circle cx="516.3" cy="123.8" r="1.75"/>
<circle cx="489.7" cy="128.0" r="1.75"/>
<circle cx="501.4" cy="128.3" r="1.75"/>
<circle cx="505.0" cy="128.3" r="1.75"/>
<circle cx="510.3" cy="128.9" r="1.75"/>
<circle cx="517.5" cy="129.2" r="1.75"/>
<circle cx="548.3" cy="102.0" r="1.75"/>
<circle cx="549.5" cy="104.1" r="1.75"/>
<circle cx="534.6" cy="106.5" r="1.75"/>
<circle cx="537.3" cy="107.7" r="1.75"/>
<circle cx="527.4" cy="108.3" r="1.75"/>
<circle cx="545.3" cy="106.5" r="1.75"/>
<circle cx="547.1" cy="108.3" r="1.75"/>
<circle cx="547.7" cy="111.9" r="1.75"/>
<circle cx="553.7" cy="107.7" r="1.75"/>
<circle cx="524.1" cy="114.1" r="1.75"/>
<circle cx="534.4" cy="113.1" r="1.75"/>
<circle cx="539.2" cy="112.9" r="1.75"/>
<circle cx="550.7" cy="114.0" r="1.75"/>
<circle cx="553.4" cy="114.3" r="1.75"/>
<circle cx="550.4" cy="115.5" r="1.75"/>
<circle cx="542.3" cy="116.7" r="1.75"/>
<circle cx="544.7" cy="115.8" r="1.75"/>
<circle cx="546.2" cy="117.0" r="1.75"/>
<circle cx="544.1" cy="118.2" r="1.75"/>
<circle cx="524.4" cy="120.3" r="1.75"/>
<circle cx="528.0" cy="120.9" r="1.75"/>
<circle cx="533.1" cy="122.0" r="1.75"/>
<circle cx="522.3" cy="125.3" r="1.75"/>
<circle cx="527.4" cy="124.7" r="1.75"/>
<circle cx="528.6" cy="124.1" r="1.75"/>
<circle cx="526.5" cy="127.1" r="1.75"/>
<circle cx="538.2" cy="123.5" r="1.75"/>
<circle cx="540.6" cy="122.3" r="1.75"/>
<circle cx="542.9" cy="121.7" r="1.75"/>
<circle cx="545.9" cy="121.1" r="1.75"/>
<circle cx="548.3" cy="120.6" r="1.75"/>
<circle cx="551.9" cy="120.6" r="1.75"/>
<circle cx="554.3" cy="119.4" r="1.75"/>
<circle cx="539.4" cy="125.9" r="1.75"/>
<circle cx="542.9" cy="124.7" r="1.75"/>
<circle cx="544.7" cy="126.5" r="1.75"/>
<circle cx="549.5" cy="123.5" r="1.75"/>
<circle cx="551.9" cy="125.3" r="1.75"/>
<circle cx="553.1" cy="127.1" r="1.75"/>
<circle cx="554.9" cy="124.1" r="1.75"/>
<circle cx="537.0" cy="127.7" r="1.75"/>
<circle cx="541.1" cy="128.9" r="1.75"/>
<circle cx="543.5" cy="128.3" r="1.75"/>
<circle cx="547.1" cy="128.6" r="1.75"/>
<circle cx="550.7" cy="128.3" r="1.75"/>
<circle cx="525.0" cy="129.2" r="1.75"/>
<circle cx="587.7" cy="100.2" r="1.75"/>
<circle cx="588.9" cy="101.4" r="1.75"/>
<circle cx="576.1" cy="101.7" r="1.75"/>
<circle cx="570.4" cy="102.6" r="1.75"/>
<circle cx="572.2" cy="106.2" r="1.75"/>
<circle cx="583.2" cy="105.3" r="1.75"/>
<circle cx="590.1" cy="105.0" r="1.75"/>
<circle cx="591.3" cy="110.1" r="1.75"/>
<circle cx="563.5" cy="103.5" r="1.75"/>
<circle cx="563.2" cy="105.6" r="1.75"/>
<circle cx="562.0" cy="108.0" r="1.75"/>
<circle cx="564.1" cy="109.2" r="1.75"/>
<circle cx="559.0" cy="109.8" r="1.75"/>
<circle cx="560.2" cy="111.9" r="1.75"/>
<circle cx="568.6" cy="111.3" r="1.75"/>
<circle cx="566.8" cy="114.0" r="1.75"/>
<circle cx="569.2" cy="115.2" r="1.75"/>
<circle cx="562.6" cy="116.4" r="1.75"/>
<circle cx="569.2" cy="117.6" r="1.75"/>
<circle cx="573.4" cy="114.6" r="1.75"/>
<circle cx="573.7" cy="116.4" r="1.75"/>
<circle cx="574.6" cy="119.1" r="1.75"/>
<circle cx="584.7" cy="118.5" r="1.75"/>
<circle cx="561.4" cy="119.7" r="1.75"/>
<circle cx="560.2" cy="121.1" r="1.75"/>
<circle cx="563.5" cy="120.6" r="1.75"/>
<circle cx="562.6" cy="122.3" r="1.75"/>
<circle cx="553.9" cy="125.3" r="1.75"/>
<circle cx="562.0" cy="125.9" r="1.75"/>
<circle cx="563.8" cy="125.6" r="1.75"/>
<circle cx="566.2" cy="125.3" r="1.75"/>
<circle cx="569.2" cy="124.7" r="1.75"/>
<circle cx="572.2" cy="122.3" r="1.75"/>
<circle cx="574.0" cy="123.5" r="1.75"/>
<circle cx="576.4" cy="124.1" r="1.75"/>
<circle cx="577.0" cy="125.3" r="1.75"/>
<circle cx="562.6" cy="127.7" r="1.75"/>
<circle cx="566.8" cy="128.9" r="1.75"/>
<circle cx="557.5" cy="129.5" r="1.75"/>
<circle cx="585.3" cy="129.2" r="1.75"/>
<circle cx="594.6" cy="102.6" r="1.75"/>
<circle cx="597.0" cy="101.4" r="1.75"/>
<circle cx="599.7" cy="101.4" r="1.75"/>
<circle cx="597.9" cy="106.5" r="1.75"/>
<circle cx="601.8" cy="109.8" r="1.75"/>
<circle cx="600.3" cy="114.6" r="1.75"/>
<circle cx="594.3" cy="118.2" r="1.75"/>
<circle cx="596.7" cy="119.4" r="1.75"/>
<circle cx="491.5" cy="131.1" r="1.75"/>
<circle cx="487.0" cy="135.6" r="1.75"/>
<circle cx="487.6" cy="137.4" r="1.75"/>
<circle cx="490.0" cy="135.9" r="1.75"/>
<circle cx="492.7" cy="134.7" r="1.75"/>
<circle cx="496.9" cy="134.4" r="1.75"/>
<circle cx="499.0" cy="132.9" r="1.75"/>
<circle cx="500.8" cy="133.8" r="1.75"/>
<circle cx="506.1" cy="127.2" r="1.75"/>
<circle cx="505.0" cy="131.4" r="1.75"/>
<circle cx="506.7" cy="132.6" r="1.75"/>
<circle cx="512.1" cy="131.4" r="1.75"/>
<circle cx="514.5" cy="132.6" r="1.75"/>
<circle cx="498.1" cy="138.3" r="1.75"/>
<circle cx="489.1" cy="142.2" r="1.75"/>
<circle cx="488.8" cy="144.6" r="1.75"/>
<circle cx="520.8" cy="133.2" r="1.75"/>
<circle cx="551.9" cy="143.4" r="1.75"/>
<circle cx="550.7" cy="141.0" r="1.75"/>
<circle cx="536.4" cy="148.5" r="1.75"/>
<circle cx="536.4" cy="151.7" r="1.75"/>
<circle cx="542.3" cy="148.5" r="1.75"/>
<circle cx="554.9" cy="138.0" r="1.75"/>
<circle cx="554.3" cy="129.0" r="1.75"/>
<circle cx="568.6" cy="126.3" r="1.75"/>
<circle cx="567.4" cy="130.5" r="1.75"/>
<circle cx="557.2" cy="131.1" r="1.75"/>
<circle cx="564.7" cy="132.3" r="1.75"/>
<circle cx="553.6" cy="135.0" r="1.75"/>
<circle cx="560.8" cy="135.0" r="1.75"/>
<circle cx="562.0" cy="137.4" r="1.75"/>
<circle cx="570.4" cy="135.6" r="1.75"/>
<circle cx="511.1" cy="143.4" r="1.75"/>
<circle cx="495.2" cy="154.3" r="1.75"/>
<circle cx="490.4" cy="148.3" r="1.75"/>
<circle cx="519.6" cy="136.7" r="1.75"/>
<circle cx="505.0" cy="147.3" r="1.75"/>
<circle cx="489.9" cy="154.2" r="1.75"/>
<circle cx="508.3" cy="149.1" r="1.75"/>
<circle cx="504.5" cy="139.7" r="1.75"/>
<circle cx="502.2" cy="150.3" r="1.75"/>
<circle cx="502.1" cy="144.0" r="1.75"/>
<circle cx="510.0" cy="147.4" r="1.75"/>
<circle cx="511.6" cy="151.7" r="1.75"/>
<circle cx="487.7" cy="149.4" r="1.75"/>
<circle cx="515.4" cy="140.1" r="1.75"/>
<circle cx="498.8" cy="153.5" r="1.75"/>
<circle cx="518.5" cy="139.6" r="1.75"/>
<circle cx="506.0" cy="138.9" r="1.75"/>
<circle cx="493.7" cy="153.4" r="1.75"/>
<circle cx="495.0" cy="147.3" r="1.75"/>
<circle cx="510.6" cy="138.2" r="1.75"/>
<circle cx="518.9" cy="144.7" r="1.75"/>
<circle cx="503.3" cy="140.8" r="1.75"/>
<circle cx="512.5" cy="137.6" r="1.75"/>
<circle cx="500.5" cy="145.0" r="1.75"/>
<circle cx="488.0" cy="151.4" r="1.75"/>
<circle cx="511.3" cy="140.5" r="1.75"/>
<circle cx="509.3" cy="152.8" r="1.75"/>
<circle cx="505.0" cy="151.5" r="1.75"/>
<circle cx="493.5" cy="142.6" r="1.75"/>
<circle cx="515.1" cy="143.1" r="1.75"/>
<circle cx="506.1" cy="149.6" r="1.75"/>
<circle cx="510.3" cy="150.5" r="1.75"/>
<circle cx="515.8" cy="150.8" r="1.75"/>
<circle cx="499.3" cy="141.9" r="1.75"/>
<circle cx="515.3" cy="146.0" r="1.75"/>
<circle cx="508.0" cy="153.6" r="1.75"/>
<circle cx="498.4" cy="145.9" r="1.75"/>
<circle cx="509.0" cy="137.5" r="1.75"/>
<circle cx="501.0" cy="153.4" r="1.75"/>
<circle cx="498.5" cy="149.8" r="1.75"/>
<circle cx="491.4" cy="150.5" r="1.75"/>
<circle cx="514.9" cy="137.2" r="1.75"/>
<circle cx="491.5" cy="146.6" r="1.75"/>
<circle cx="506.6" cy="141.0" r="1.75"/>
<circle cx="517.2" cy="150.0" r="1.75"/>
<circle cx="496.3" cy="143.0" r="1.75"/>
<circle cx="517.3" cy="141.4" r="1.75"/>
<circle cx="503.8" cy="148.8" r="1.75"/>
<circle cx="512.1" cy="149.5" r="1.75"/>
<circle cx="503.8" cy="152.5" r="1.75"/>
<circle cx="510.2" cy="154.2" r="1.75"/>
<circle cx="503.3" cy="146.3" r="1.75"/>
<circle cx="495.0" cy="151.0" r="1.75"/>
<circle cx="492.3" cy="152.8" r="1.75"/>
<circle cx="502.1" cy="148.0" r="1.75"/>
<circle cx="513.1" cy="140.0" r="1.75"/>
<circle cx="514.4" cy="149.8" r="1.75"/>
<circle cx="513.7" cy="144.9" r="1.75"/>
<circle cx="496.5" cy="149.3" r="1.75"/>
<circle cx="513.1" cy="143.3" r="1.75"/>
<circle cx="500.6" cy="149.8" r="1.75"/>
<circle cx="502.0" cy="142.4" r="1.75"/>
<circle cx="503.4" cy="154.7" r="1.75"/>
<circle cx="508.3" cy="146.3" r="1.75"/>
<circle cx="509.3" cy="142.2" r="1.75"/>
<circle cx="513.3" cy="136.1" r="1.75"/>
<circle cx="495.5" cy="144.7" r="1.75"/>
<circle cx="519.3" cy="150.1" r="1.75"/>
<circle cx="516.9" cy="146.2" r="1.75"/>
<circle cx="504.8" cy="142.8" r="1.75"/>
<circle cx="490.3" cy="151.7" r="1.75"/>
<circle cx="498.4" cy="148.1" r="1.75"/>
<circle cx="514.6" cy="147.5" r="1.75"/>
<circle cx="497.1" cy="154.0" r="1.75"/>
<circle cx="518.4" cy="152.3" r="1.75"/>
<circle cx="497.1" cy="144.9" r="1.75"/>
<circle cx="513.3" cy="153.2" r="1.75"/>
<circle cx="508.2" cy="144.4" r="1.75"/>
<circle cx="505.8" cy="144.8" r="1.75"/>
<circle cx="518.0" cy="136.3" r="1.75"/>
<circle cx="493.1" cy="151.3" r="1.75"/>
<circle cx="511.7" cy="144.9" r="1.75"/>
<circle cx="493.7" cy="144.6" r="1.75"/>
<circle cx="507.2" cy="143.1" r="1.75"/>
<circle cx="509.1" cy="139.6" r="1.75"/>
<circle cx="506.3" cy="154.3" r="1.75"/>
<circle cx="518.8" cy="147.3" r="1.75"/>
<circle cx="498.5" cy="151.6" r="1.75"/>
<circle cx="492.4" cy="154.9" r="1.75"/>
<circle cx="519.1" cy="141.5" r="1.75"/>
<circle cx="516.8" cy="138.7" r="1.75"/>
<circle cx="512.1" cy="154.4" r="1.75"/>
<circle cx="506.7" cy="151.8" r="1.75"/>
<circle cx="496.4" cy="146.4" r="1.75"/>
<circle cx="514.9" cy="152.6" r="1.75"/>
<circle cx="488.3" cy="153.6" r="1.75"/>
<circle cx="512.5" cy="141.7" r="1.75"/>
<circle cx="516.2" cy="148.1" r="1.75"/>
<circle cx="521.9" cy="147.7" r="1.75"/>
<circle cx="522.2" cy="150.2" r="1.75"/>
<circle cx="526.8" cy="149.7" r="1.75"/>
<circle cx="523.5" cy="146.4" r="1.75"/>
<circle cx="524.5" cy="149.3" r="1.75"/>
<circle cx="522.9" cy="144.0" r="1.75"/>
<circle cx="524.6" cy="145.1" r="1.75"/>
<circle cx="520.9" cy="144.8" r="1.75"/>
<circle cx="518.1" cy="143.0" r="1.75"/>
<circle cx="526.4" cy="147.4" r="1.75"/>
<circle cx="520.2" cy="143.3" r="1.75"/>
<circle cx="520.1" cy="148.6" r="1.75"/>
<circle cx="520.0" cy="146.3" r="1.75"/>
<circle cx="521.8" cy="142.7" r="1.75"/>
<circle cx="524.7" cy="147.7" r="1.75"/>
<circle cx="531.9" cy="135.3" r="1.75"/>
<circle cx="542.6" cy="137.8" r="1.75"/>
<circle cx="530.7" cy="146.1" r="1.75"/>
<circle cx="544.6" cy="132.9" r="1.75"/>
<circle cx="535.8" cy="132.0" r="1.75"/>
<circle cx="540.7" cy="139.3" r="1.75"/>
<circle cx="533.6" cy="143.6" r="1.75"/>
<circle cx="532.7" cy="137.0" r="1.75"/>
<circle cx="536.6" cy="134.9" r="1.75"/>
<circle cx="531.0" cy="140.1" r="1.75"/>
<circle cx="545.3" cy="129.3" r="1.75"/>
<circle cx="530.3" cy="144.3" r="1.75"/>
<circle cx="537.7" cy="132.8" r="1.75"/>
<circle cx="544.9" cy="137.1" r="1.75"/>
<circle cx="546.5" cy="136.2" r="1.75"/>
<circle cx="533.5" cy="133.4" r="1.75"/>
<circle cx="538.2" cy="129.9" r="1.75"/>
<circle cx="539.9" cy="137.6" r="1.75"/>
<circle cx="535.9" cy="138.4" r="1.75"/>
<circle cx="539.2" cy="131.9" r="1.75"/>
<circle cx="531.2" cy="131.9" r="1.75"/>
<circle cx="542.9" cy="132.6" r="1.75"/>
<circle cx="528.1" cy="137.0" r="1.75"/>
<circle cx="546.3" cy="138.3" r="1.75"/>
<circle cx="528.8" cy="138.9" r="1.75"/>
<circle cx="548.3" cy="135.0" r="1.75"/>
<circle cx="530.6" cy="137.5" r="1.75"/>
<circle cx="550.3" cy="136.3" r="1.75"/>
<circle cx="526.1" cy="137.1" r="1.75"/>
<circle cx="533.8" cy="140.2" r="1.75"/>
<circle cx="531.0" cy="133.5" r="1.75"/>
<circle cx="527.0" cy="140.2" r="1.75"/>
<circle cx="537.5" cy="138.4" r="1.75"/>
<circle cx="530.0" cy="142.3" r="1.75"/>
<circle cx="541.2" cy="134.7" r="1.75"/>
<circle cx="534.5" cy="128.7" r="1.75"/>
<circle cx="535.8" cy="136.6" r="1.75"/>
<circle cx="535.7" cy="141.7" r="1.75"/>
<circle cx="538.1" cy="136.6" r="1.75"/>
<circle cx="532.5" cy="139.2" r="1.75"/>
<circle cx="534.2" cy="135.3" r="1.75"/>
<circle cx="547.3" cy="130.3" r="1.75"/>
<circle cx="529.4" cy="132.1" r="1.75"/>
<circle cx="545.7" cy="134.5" r="1.75"/>
<circle cx="548.9" cy="137.9" r="1.75"/>
<circle cx="536.5" cy="129.7" r="1.75"/>
<circle cx="543.7" cy="130.5" r="1.75"/>
<circle cx="517.6" cy="130.9" r="1.75"/>
</g>
<line x1="486.50" y1="144.00" x2="622.00" y2="95.80" stroke="#ff0000" stroke-width="0.7"/>
<rect x="481.60" y="39.30" width="144.90" height="120.00" fill="none" stroke="#808080" stroke-width="1.0"/>
<line x1="486.10" y1="159.30" x2="486.10" y2="163.40" stroke="#808080" stroke-width="1.0"/>
<text x="486.10" y="175.20" font-size="7.3" text-anchor="middle" fill="#000">0</text>
<line x1="506.20" y1="159.30" x2="506.20" y2="163.40" stroke="#808080" stroke-width="1.0"/>
<text x="506.20" y="175.20" font-size="7.3" text-anchor="middle" fill="#000">1</text>
<line x1="526.30" y1="159.30" x2="526.30" y2="163.40" stroke="#808080" stroke-width="1.0"/>
<text x="526.30" y="175.20" font-size="7.3" text-anchor="middle" fill="#000">2</text>
<line x1="546.40" y1="159.30" x2="546.40" y2="163.40" stroke="#808080" stroke-width="1.0"/>
<text x="546.40" y="175.20" font-size="7.3" text-anchor="middle" fill="#000">3</text>
<line x1="566.50" y1="159.30" x2="566.50" y2="163.40" stroke="#808080" stroke-width="1.0"/>
<text x="566.50" y="175.20" font-size="7.3" text-anchor="middle" fill="#000">4</text>
<line x1="586.60" y1="159.30" x2="586.60" y2="163.40" stroke="#808080" stroke-width="1.0"/>
<text x="586.60" y="175.20" font-size="7.3" text-anchor="middle" fill="#000">5</text>
<line x1="606.70" y1="159.30" x2="606.70" y2="163.40" stroke="#808080" stroke-width="1.0"/>
<text x="606.70" y="175.20" font-size="7.3" text-anchor="middle" fill="#000">6</text>
<line x1="481.60" y1="155.30" x2="477.40" y2="155.30" stroke="#808080" stroke-width="1.0"/>
<text transform="translate(471.70,155.30) rotate(-90)" font-size="7.3" text-anchor="middle" fill="#000">0</text>
<line x1="481.60" y1="137.32" x2="477.40" y2="137.32" stroke="#808080" stroke-width="1.0"/>
<text transform="translate(471.70,137.32) rotate(-90)" font-size="7.3" text-anchor="middle" fill="#000">1</text>
<line x1="481.60" y1="119.34" x2="477.40" y2="119.34" stroke="#808080" stroke-width="1.0"/>
<text transform="translate(471.70,119.34) rotate(-90)" font-size="7.3" text-anchor="middle" fill="#000">2</text>
<line x1="481.60" y1="101.36" x2="477.40" y2="101.36" stroke="#808080" stroke-width="1.0"/>
<text transform="translate(471.70,101.36) rotate(-90)" font-size="7.3" text-anchor="middle" fill="#000">3</text>
<line x1="481.60" y1="83.38" x2="477.40" y2="83.38" stroke="#808080" stroke-width="1.0"/>
<text transform="translate(471.70,83.38) rotate(-90)" font-size="7.3" text-anchor="middle" fill="#000">4</text>
<line x1="481.60" y1="65.40" x2="477.40" y2="65.40" stroke="#808080" stroke-width="1.0"/>
<text transform="translate(471.70,65.40) rotate(-90)" font-size="7.3" text-anchor="middle" fill="#000">5</text>
<line x1="481.60" y1="47.42" x2="477.40" y2="47.42" stroke="#808080" stroke-width="1.0"/>
<text transform="translate(471.70,47.42) rotate(-90)" font-size="7.3" text-anchor="middle" fill="#000">6</text>
<text x="554.05" y="191.80" font-size="7" text-anchor="middle" fill="#000">PTPRC expression</text>
<text transform="translate(454.40,100.00) rotate(-90)" font-size="7" text-anchor="middle" fill="#000">CTLA4 expression</text>
<text x="222.90" y="230.40" font-size="7" text-anchor="middle" fill="#000" font-weight="bold">Cor=0.74 (p-value=6.715e-83)</text>
<g fill="#0000ff">
<circle cx="218.5" cy="249.4" r="1.75"/>
<circle cx="193.4" cy="262.5" r="1.75"/>
<circle cx="207.3" cy="274.9" r="1.75"/>
<circle cx="189.5" cy="281.3" r="1.75"/>
<circle cx="164.3" cy="288.0" r="1.75"/>
<circle cx="175.6" cy="290.4" r="1.75"/>
<circle cx="185.4" cy="287.3" r="1.75"/>
<circle cx="197.6" cy="290.3" r="1.75"/>
<circle cx="212.6" cy="286.1" r="1.75"/>
<circle cx="220.2" cy="290.4" r="1.75"/>
<circle cx="223.0" cy="289.5" r="1.75"/>
<circle cx="224.1" cy="293.4" r="1.75"/>
<circle cx="223.0" cy="296.8" r="1.75"/>
<circle cx="184.2" cy="296.5" r="1.75"/>
<circle cx="185.4" cy="297.7" r="1.75"/>
<circle cx="203.3" cy="295.1" r="1.75"/>
<circle cx="203.3" cy="297.9" r="1.75"/>
<circle cx="205.6" cy="298.5" r="1.75"/>
<circle cx="210.6" cy="293.4" r="1.75"/>
<circle cx="212.3" cy="295.1" r="1.75"/>
<circle cx="212.9" cy="296.8" r="1.75"/>
<circle cx="214.6" cy="299.0" r="1.75"/>
<circle cx="217.4" cy="299.0" r="1.75"/>
<circle cx="219.0" cy="298.5" r="1.75"/>
<circle cx="209.5" cy="299.6" r="1.75"/>
<circle cx="193.0" cy="299.3" r="1.75"/>
<circle cx="196.4" cy="300.1" r="1.75"/>
<circle cx="182.0" cy="304.6" r="1.75"/>
<circle cx="198.3" cy="304.1" r="1.75"/>
<circle cx="205.0" cy="305.2" r="1.75"/>
<circle cx="214.0" cy="302.9" r="1.75"/>
<circle cx="216.2" cy="303.5" r="1.75"/>
<circle cx="222.4" cy="303.5" r="1.75"/>
<circle cx="212.9" cy="305.2" r="1.75"/>
<circle cx="260.2" cy="253.8" r="1.75"/>
<circle cx="275.3" cy="258.6" r="1.75"/>
<circle cx="259.0" cy="262.5" r="1.75"/>
<circle cx="265.6" cy="261.4" r="1.75"/>
<circle cx="268.3" cy="264.8" r="1.75"/>
<circle cx="262.4" cy="264.2" r="1.75"/>
<circle cx="261.3" cy="266.2" r="1.75"/>
<circle cx="248.4" cy="268.1" r="1.75"/>
<circle cx="243.9" cy="269.8" r="1.75"/>
<circle cx="233.2" cy="272.1" r="1.75"/>
<circle cx="228.7" cy="275.7" r="1.75"/>
<circle cx="263.5" cy="270.0" r="1.75"/>
<circle cx="265.2" cy="272.1" r="1.75"/>
<circle cx="254.3" cy="273.2" r="1.75"/>
<circle cx="257.0" cy="274.3" r="1.75"/>
<circle cx="252.3" cy="279.9" r="1.75"/>
<circle cx="254.0" cy="282.2" r="1.75"/>
<circle cx="255.1" cy="283.9" r="1.75"/>
<circle cx="231.0" cy="283.1" r="1.75"/>
<circle cx="233.2" cy="282.7" r="1.75"/>
<circle cx="237.7" cy="283.9" r="1.75"/>
<circle cx="242.8" cy="284.2" r="1.75"/>
<circle cx="238.8" cy="285.5" r="1.75"/>
<circle cx="246.1" cy="286.1" r="1.75"/>
<circle cx="245.0" cy="287.2" r="1.75"/>
<circle cx="236.0" cy="287.2" r="1.75"/>
<circle cx="231.5" cy="287.8" r="1.75"/>
<circle cx="241.6" cy="288.7" r="1.75"/>
<circle cx="261.9" cy="284.6" r="1.75"/>
<circle cx="262.6" cy="286.7" r="1.75"/>
<circle cx="264.1" cy="288.7" r="1.75"/>
<circle cx="267.1" cy="288.6" r="1.75"/>
<circle cx="271.4" cy="286.4" r="1.75"/>
<circle cx="257.7" cy="287.2" r="1.75"/>
<circle cx="252.3" cy="289.7" r="1.75"/>
<circle cx="238.3" cy="292.6" r="1.75"/>
<circle cx="242.8" cy="293.4" r="1.75"/>
<circle cx="230.4" cy="294.5" r="1.75"/>
<circle cx="233.2" cy="294.3" r="1.75"/>
<circle cx="237.7" cy="297.3" r="1.75"/>
<circle cx="244.5" cy="297.0" r="1.75"/>
<circle cx="273.9" cy="294.3" r="1.75"/>
<circle cx="270.8" cy="297.7" r="1.75"/>
<circle cx="284.3" cy="299.0" r="1.75"/>
<circle cx="230.4" cy="299.6" r="1.75"/>
<circle cx="238.6" cy="300.1" r="1.75"/>
<circle cx="229.9" cy="302.4" r="1.75"/>
<circle cx="232.7" cy="302.9" r="1.75"/>
<circle cx="235.5" cy="305.2" r="1.75"/>
<circle cx="226.5" cy="305.2" r="1.75"/>
<circle cx="243.3" cy="303.5" r="1.75"/>
<circle cx="260.2" cy="301.8" r="1.75"/>
<circle cx="259.6" cy="303.5" r="1.75"/>
<circle cx="289.9" cy="305.5" r="1.75"/>
<circle cx="161.8" cy="313.5" r="1.75"/>
<circle cx="168.1" cy="313.2" r="1.75"/>
<circle cx="179.0" cy="314.3" r="1.75"/>
<circle cx="181.3" cy="317.6" r="1.75"/>
<circle cx="173.5" cy="319.8" r="1.75"/>
<circle cx="163.5" cy="321.2" r="1.75"/>
<circle cx="163.5" cy="322.7" r="1.75"/>
<circle cx="159.2" cy="323.0" r="1.75"/>
<circle cx="169.6" cy="322.8" r="1.75"/>
<circle cx="176.3" cy="322.4" r="1.75"/>
<circle cx="179.3" cy="322.1" r="1.75"/>
<circle cx="180.5" cy="323.0" r="1.75"/>
<circle cx="174.6" cy="324.8" r="1.75"/>
<circle cx="181.7" cy="324.5" r="1.75"/>
<circle cx="175.1" cy="327.1" r="1.75"/>
<circle cx="177.5" cy="326.0" r="1.75"/>
<circle cx="179.3" cy="327.7" r="1.75"/>
<circle cx="177.5" cy="329.8" r="1.75"/>
<circle cx="176.3" cy="328.6" r="1.75"/>
<circle cx="184.1" cy="327.7" r="1.75"/>
<circle cx="185.9" cy="328.9" r="1.75"/>
<circle cx="182.9" cy="331.3" r="1.75"/>
<circle cx="185.3" cy="333.7" r="1.75"/>
<circle cx="188.3" cy="321.2" r="1.75"/>
<circle cx="188.9" cy="325.4" r="1.75"/>
<circle cx="189.5" cy="326.6" r="1.75"/>
<circle cx="168.9" cy="329.2" r="1.75"/>
<circle cx="157.8" cy="332.4" r="1.75"/>
<circle cx="170.4" cy="334.3" r="1.75"/>
<circle cx="172.2" cy="333.7" r="1.75"/>
<circle cx="179.3" cy="334.9" r="1.75"/>
<circle cx="160.8" cy="335.5" r="1.75"/>
<circle cx="224.9" cy="305.6" r="1.75"/>
<circle cx="216.5" cy="306.8" r="1.75"/>
<circle cx="193.5" cy="310.7" r="1.75"/>
<circle cx="201.6" cy="310.1" r="1.75"/>
<circle cx="204.0" cy="307.7" r="1.75"/>
<circle cx="206.4" cy="308.6" r="1.75"/>
<circle cx="209.4" cy="309.5" r="1.75"/>
<circle cx="213.5" cy="311.0" r="1.75"/>
<circle cx="215.3" cy="312.8" r="1.75"/>
<circle cx="217.1" cy="314.0" r="1.75"/>
<circle cx="218.3" cy="310.4" r="1.75"/>
<circle cx="220.7" cy="309.2" r="1.75"/>
<circle cx="222.5" cy="308.6" r="1.75"/>
<circle cx="224.3" cy="311.0" r="1.75"/>
<circle cx="221.9" cy="312.8" r="1.75"/>
<circle cx="197.4" cy="314.0" r="1.75"/>
<circle cx="199.2" cy="312.8" r="1.75"/>
<circle cx="201.6" cy="314.0" r="1.75"/>
<circle cx="202.8" cy="314.9" r="1.75"/>
<circle cx="207.0" cy="312.2" r="1.75"/>
<circle cx="207.6" cy="315.2" r="1.75"/>
<circle cx="210.0" cy="315.8" r="1.75"/>
<circle cx="208.8" cy="317.0" r="1.75"/>
<circle cx="197.4" cy="317.0" r="1.75"/>
<circle cx="199.8" cy="317.0" r="1.75"/>
<circle cx="198.0" cy="319.4" r="1.75"/>
<circle cx="201.6" cy="318.8" r="1.75"/>
<circle cx="202.2" cy="320.6" r="1.75"/>
<circle cx="197.4" cy="321.5" r="1.75"/>
<circle cx="215.9" cy="317.6" r="1.75"/>
<circle cx="219.5" cy="317.6" r="1.75"/>
<circle cx="221.9" cy="315.8" r="1.75"/>
<circle cx="211.1" cy="320.0" r="1.75"/>
<circle cx="189.9" cy="324.2" r="1.75"/>
<circle cx="191.4" cy="324.2" r="1.75"/>
<circle cx="204.0" cy="324.8" r="1.75"/>
<circle cx="207.0" cy="325.1" r="1.75"/>
<circle cx="208.8" cy="326.0" r="1.75"/>
<circle cx="211.1" cy="324.8" r="1.75"/>
<circle cx="212.9" cy="323.0" r="1.75"/>
<circle cx="214.1" cy="326.0" r="1.75"/>
<circle cx="216.5" cy="324.2" r="1.75"/>
<circle cx="218.9" cy="322.4" r="1.75"/>
<circle cx="220.7" cy="323.6" r="1.75"/>
<circle cx="221.9" cy="325.4" r="1.75"/>
<circle cx="221.3" cy="328.9" r="1.75"/>
<circle cx="212.3" cy="330.1" r="1.75"/>
<circle cx="205.2" cy="327.1" r="1.75"/>
<circle cx="207.0" cy="329.5" r="1.75"/>
<circle cx="202.2" cy="327.7" r="1.75"/>
<circle cx="201.0" cy="330.1" r="1.75"/>
<circle cx="192.6" cy="330.1" r="1.75"/>
<circle cx="190.2" cy="332.5" r="1.75"/>
<circle cx="193.8" cy="333.1" r="1.75"/>
<circle cx="196.8" cy="332.5" r="1.75"/>
<circle cx="199.2" cy="333.7" r="1.75"/>
<circle cx="202.2" cy="333.1" r="1.75"/>
<circle cx="205.8" cy="334.3" r="1.75"/>
<circle cx="215.3" cy="334.9" r="1.75"/>
<circle cx="195.0" cy="334.9" r="1.75"/>
<circle cx="226.5" cy="306.8" r="1.75"/>
<circle cx="234.0" cy="305.0" r="1.75"/>
<circle cx="236.4" cy="303.8" r="1.75"/>
<circle cx="238.2" cy="302.6" r="1.75"/>
<circle cx="232.8" cy="306.5" r="1.75"/>
<circle cx="235.8" cy="310.4" r="1.75"/>
<circle cx="231.6" cy="312.2" r="1.75"/>
<circle cx="228.3" cy="314.6" r="1.75"/>
<circle cx="241.2" cy="312.3" r="1.75"/>
<circle cx="236.1" cy="314.9" r="1.75"/>
<circle cx="239.1" cy="315.2" r="1.75"/>
<circle cx="243.0" cy="316.9" r="1.75"/>
<circle cx="231.7" cy="317.4" r="1.75"/>
<circle cx="239.4" cy="318.8" r="1.75"/>
<circle cx="233.7" cy="321.6" r="1.75"/>
<circle cx="231.6" cy="324.3" r="1.75"/>
<circle cx="245.4" cy="327.9" r="1.75"/>
<circle cx="241.2" cy="329.4" r="1.75"/>
<circle cx="237.4" cy="330.7" r="1.75"/>
<circle cx="254.3" cy="327.4" r="1.75"/>
<circle cx="257.6" cy="324.8" r="1.75"/>
<circle cx="231.3" cy="334.9" r="1.75"/>
<circle cx="243.9" cy="335.5" r="1.75"/>
<circle cx="273.6" cy="307.5" r="1.75"/>
<circle cx="269.5" cy="314.0" r="1.75"/>
<circle cx="289.7" cy="316.5" r="1.75"/>
<circle cx="263.7" cy="325.2" r="1.75"/>
<circle cx="290.3" cy="327.0" r="1.75"/>
<circle cx="265.8" cy="330.1" r="1.75"/>
<circle cx="267.0" cy="335.2" r="1.75"/>
<circle cx="162.6" cy="336.8" r="1.75"/>
<circle cx="164.7" cy="337.3" r="1.75"/>
<circle cx="183.5" cy="332.9" r="1.75"/>
<circle cx="158.3" cy="344.3" r="1.75"/>
<circle cx="160.8" cy="347.0" r="1.75"/>
<circle cx="163.2" cy="341.9" r="1.75"/>
<circle cx="165.0" cy="342.8" r="1.75"/>
<circle cx="223.1" cy="340.7" r="1.75"/>
<circle cx="225.5" cy="347.6" r="1.75"/>
<circle cx="211.7" cy="347.0" r="1.75"/>
<circle cx="215.3" cy="347.6" r="1.75"/>
<circle cx="210.6" cy="350.6" r="1.75"/>
<circle cx="199.2" cy="351.8" r="1.75"/>
<circle cx="201.6" cy="351.2" r="1.75"/>
<circle cx="204.0" cy="352.4" r="1.75"/>
<circle cx="196.5" cy="356.3" r="1.75"/>
<circle cx="205.2" cy="356.0" r="1.75"/>
<circle cx="186.6" cy="354.8" r="1.75"/>
<circle cx="186.3" cy="357.7" r="1.75"/>
<circle cx="212.3" cy="332.3" r="1.75"/>
<circle cx="229.8" cy="341.9" r="1.75"/>
<circle cx="227.1" cy="347.6" r="1.75"/>
<circle cx="176.4" cy="356.9" r="1.75"/>
<circle cx="158.5" cy="352.3" r="1.75"/>
<circle cx="187.6" cy="343.1" r="1.75"/>
<circle cx="177.7" cy="346.3" r="1.75"/>
<circle cx="163.0" cy="351.7" r="1.75"/>
<circle cx="175.7" cy="340.0" r="1.75"/>
<circle cx="162.6" cy="359.0" r="1.75"/>
<circle cx="173.6" cy="353.4" r="1.75"/>
<circle cx="169.8" cy="359.1" r="1.75"/>
<circle cx="168.5" cy="346.5" r="1.75"/>
<circle cx="176.9" cy="344.4" r="1.75"/>
<circle cx="171.7" cy="346.6" r="1.75"/>
<circle cx="158.8" cy="354.7" r="1.75"/>
<circle cx="163.0" cy="354.6" r="1.75"/>
<circle cx="182.9" cy="344.1" r="1.75"/>
<circle cx="178.4" cy="357.6" r="1.75"/>
<circle cx="180.3" cy="342.1" r="1.75"/>
<circle cx="173.9" cy="342.2" r="1.75"/>
<circle cx="179.6" cy="345.3" r="1.75"/>
<circle cx="182.2" cy="357.6" r="1.75"/>
<circle cx="165.8" cy="346.9" r="1.75"/>
<circle cx="164.1" cy="346.7" r="1.75"/>
<circle cx="170.3" cy="356.2" r="1.75"/>
<circle cx="166.8" cy="350.8" r="1.75"/>
<circle cx="182.1" cy="349.5" r="1.75"/>
<circle cx="162.8" cy="357.1" r="1.75"/>
<circle cx="183.7" cy="355.9" r="1.75"/>
<circle cx="164.7" cy="356.1" r="1.75"/>
<circle cx="182.6" cy="347.0" r="1.75"/>
<circle cx="184.9" cy="344.8" r="1.75"/>
<circle cx="170.6" cy="342.6" r="1.75"/>
<circle cx="164.4" cy="358.2" r="1.75"/>
<circle cx="184.4" cy="339.5" r="1.75"/>
<circle cx="166.7" cy="357.3" r="1.75"/>
<circle cx="168.0" cy="348.7" r="1.75"/>
<circle cx="188.7" cy="348.9" r="1.75"/>
<circle cx="174.2" cy="347.5" r="1.75"/>
<circle cx="162.4" cy="348.2" r="1.75"/>
<circle cx="174.4" cy="351.8" r="1.75"/>
<circle cx="160.6" cy="355.6" r="1.75"/>
<circle cx="178.7" cy="348.6" r="1.75"/>
<circle cx="184.5" cy="354.4" r="1.75"/>
<circle cx="171.7" cy="348.5" r="1.75"/>
<circle cx="169.2" cy="343.4" r="1.75"/>
<circle cx="175.0" cy="358.6" r="1.75"/>
<circle cx="169.9" cy="347.9" r="1.75"/>
<circle cx="175.7" cy="345.9" r="1.75"/>
<circle cx="168.9" cy="351.7" r="1.75"/>
<circle cx="174.8" cy="349.4" r="1.75"/>
<circle cx="188.6" cy="350.9" r="1.75"/>
<circle cx="176.5" cy="355.3" r="1.75"/>
<circle cx="167.3" cy="353.2" r="1.75"/>
<circle cx="173.7" cy="355.3" r="1.75"/>
<circle cx="180.2" cy="353.1" r="1.75"/>
<circle cx="180.7" cy="348.1" r="1.75"/>
<circle cx="171.8" cy="341.2" r="1.75"/>
<circle cx="176.5" cy="342.9" r="1.75"/>
<circle cx="176.0" cy="350.5" r="1.75"/>
<circle cx="167.2" cy="355.4" r="1.75"/>
<circle cx="187.1" cy="345.5" r="1.75"/>
<circle cx="166.2" cy="359.3" r="1.75"/>
<circle cx="182.7" cy="340.9" r="1.75"/>
<circle cx="187.6" cy="341.1" r="1.75"/>
<circle cx="159.3" cy="358.3" r="1.75"/>
<circle cx="161.4" cy="360.3" r="1.75"/>
<circle cx="183.4" cy="351.1" r="1.75"/>
<circle cx="165.2" cy="351.9" r="1.75"/>
<circle cx="157.1" cy="355.6" r="1.75"/>
<circle cx="186.4" cy="348.3" r="1.75"/>
<circle cx="187.8" cy="338.8" r="1.75"/>
<circle cx="185.2" cy="352.6" r="1.75"/>
<circle cx="169.9" cy="353.2" r="1.75"/>
<circle cx="180.9" cy="351.4" r="1.75"/>
<circle cx="176.5" cy="352.8" r="1.75"/>
<circle cx="161.2" cy="350.2" r="1.75"/>
<circle cx="186.7" cy="350.9" r="1.75"/>
<circle cx="185.6" cy="341.9" r="1.75"/>
<circle cx="164.1" cy="349.0" r="1.75"/>
<circle cx="177.8" cy="354.2" r="1.75"/>
<circle cx="185.6" cy="346.5" r="1.75"/>
<circle cx="185.0" cy="349.7" r="1.75"/>
<circle cx="172.9" cy="356.8" r="1.75"/>
<circle cx="166.9" cy="345.5" r="1.75"/>
<circle cx="179.2" cy="343.6" r="1.75"/>
<circle cx="165.7" cy="354.3" r="1.75"/>
<circle cx="171.6" cy="352.5" r="1.75"/>
<circle cx="156.5" cy="354.0" r="1.75"/>
<circle cx="156.5" cy="357.4" r="1.75"/>
<circle cx="167.9" cy="359.1" r="1.75"/>
<circle cx="168.5" cy="357.3" r="1.75"/>
<circle cx="170.4" cy="349.5" r="1.75"/>
<circle cx="186.0" cy="339.0" r="1.75"/>
<circle cx="173.5" cy="359.3" r="1.75"/>
<circle cx="171.6" cy="357.7" r="1.75"/>
<circle cx="158.8" cy="356.8" r="1.75"/>
<circle cx="160.1" cy="352.0" r="1.75"/>
<circle cx="177.0" cy="348.6" r="1.75"/>
<circle cx="183.3" cy="353.1" r="1.75"/>
<circle cx="188.7" cy="347.3" r="1.75"/>
<circle cx="171.8" cy="359.4" r="1.75"/>
<circle cx="179.9" cy="350.1" r="1.75"/>
<circle cx="189.6" cy="339.8" r="1.75"/>
<circle cx="195.8" cy="342.4" r="1.75"/>
<circle cx="206.6" cy="343.1" r="1.75"/>
<circle cx="197.2" cy="335.8" r="1.75"/>
<circle cx="197.1" cy="344.8" r="1.75"/>
<circle cx="209.7" cy="338.6" r="1.75"/>
<circle cx="208.5" cy="341.4" r="1.75"/>
<circle cx="199.0" cy="341.8" r="1.75"/>
<circle cx="203.4" cy="345.5" r="1.75"/>
<circle cx="192.3" cy="342.0" r="1.75"/>
<circle cx="203.0" cy="342.1" r="1.75"/>
<circle cx="210.6" cy="340.1" r="1.75"/>
<circle cx="194.2" cy="345.1" r="1.75"/>
<circle cx="190.7" cy="346.2" r="1.75"/>
<circle cx="203.9" cy="337.4" r="1.75"/>
<circle cx="195.8" cy="339.3" r="1.75"/>
<circle cx="202.1" cy="336.6" r="1.75"/>
<circle cx="191.3" cy="343.7" r="1.75"/>
<circle cx="194.5" cy="336.6" r="1.75"/>
<circle cx="194.4" cy="340.3" r="1.75"/>
<circle cx="205.6" cy="340.0" r="1.75"/>
<circle cx="199.2" cy="347.0" r="1.75"/>
<circle cx="200.4" cy="340.0" r="1.75"/>
<circle cx="214.0" cy="341.9" r="1.75"/>
<circle cx="189.1" cy="342.3" r="1.75"/>
<circle cx="191.1" cy="348.3" r="1.75"/>
<circle cx="189.1" cy="345.3" r="1.75"/>
<circle cx="200.9" cy="347.1" r="1.75"/>
<circle cx="196.8" cy="341.1" r="1.75"/>
<circle cx="196.6" cy="347.7" r="1.75"/>
<circle cx="200.9" cy="337.9" r="1.75"/>
<circle cx="193.9" cy="347.8" r="1.75"/>
<circle cx="212.1" cy="341.4" r="1.75"/>
<circle cx="210.7" cy="343.0" r="1.75"/>
<circle cx="199.9" cy="335.9" r="1.75"/>
<circle cx="201.2" cy="345.2" r="1.75"/>
<circle cx="206.9" cy="336.7" r="1.75"/>
<circle cx="207.6" cy="339.0" r="1.75"/>
<circle cx="200.7" cy="343.1" r="1.75"/>
<circle cx="205.5" cy="338.0" r="1.75"/>
<circle cx="198.5" cy="337.5" r="1.75"/>
<circle cx="196.5" cy="337.8" r="1.75"/>
<circle cx="206.4" cy="345.5" r="1.75"/>
<circle cx="192.1" cy="337.4" r="1.75"/>
</g>
<line x1="156.10" y1="355.20" x2="290.50" y2="273.50" stroke="#ff0000" stroke-width="0.7"/>
<rect x="150.40" y="244.90" width="145.00" height="120.10" fill="none" stroke="#808080" stroke-width="1.0"/>
<line x1="155.30" y1="365.00" x2="155.30" y2="369.10" stroke="#808080" stroke-width="1.0"/>
<text x="155.30" y="380.60" font-size="7.3" text-anchor="middle" fill="#000">0</text>
<line x1="175.40" y1="365.00" x2="175.40" y2="369.10" stroke="#808080" stroke-width="1.0"/>
<text x="175.40" y="380.60" font-size="7.3" text-anchor="middle" fill="#000">1</text>
<line x1="195.50" y1="365.00" x2="195.50" y2="369.10" stroke="#808080" stroke-width="1.0"/>
<text x="195.50" y="380.60" font-size="7.3" text-anchor="middle" fill="#000">2</text>
<line x1="215.60" y1="365.00" x2="215.60" y2="369.10" stroke="#808080" stroke-width="1.0"/>
<text x="215.60" y="380.60" font-size="7.3" text-anchor="middle" fill="#000">3</text>
<line x1="235.70" y1="365.00" x2="235.70" y2="369.10" stroke="#808080" stroke-width="1.0"/>
<text x="235.70" y="380.60" font-size="7.3" text-anchor="middle" fill="#000">4</text>
<line x1="255.80" y1="365.00" x2="255.80" y2="369.10" stroke="#808080" stroke-width="1.0"/>
<text x="255.80" y="380.60" font-size="7.3" text-anchor="middle" fill="#000">5</text>
<line x1="275.90" y1="365.00" x2="275.90" y2="369.10" stroke="#808080" stroke-width="1.0"/>
<text x="275.90" y="380.60" font-size="7.3" text-anchor="middle" fill="#000">6</text>
<line x1="150.40" y1="361.40" x2="146.20" y2="361.40" stroke="#808080" stroke-width="1.0"/>
<text transform="translate(140.30,361.40) rotate(-90)" font-size="7.3" text-anchor="middle" fill="#000">0</text>
<line x1="150.40" y1="345.90" x2="146.20" y2="345.90" stroke="#808080" stroke-width="1.0"/>
<text transform="translate(140.30,345.90) rotate(-90)" font-size="7.3" text-anchor="middle" fill="#000">1</text>
<line x1="150.40" y1="330.40" x2="146.20" y2="330.40" stroke="#808080" stroke-width="1.0"/>
<text transform="translate(140.30,330.40) rotate(-90)" font-size="7.3" text-anchor="middle" fill="#000">2</text>
<line x1="150.40" y1="314.90" x2="146.20" y2="314.90" stroke="#808080" stroke-width="1.0"/>
<text transform="translate(140.30,314.90) rotate(-90)" font-size="7.3" text-anchor="middle" fill="#000">3</text>
<line x1="150.40" y1="299.40" x2="146.20" y2="299.40" stroke="#808080" stroke-width="1.0"/>
<text transform="translate(140.30,299.40) rotate(-90)" font-size="7.3" text-anchor="middle" fill="#000">4</text>
<line x1="150.40" y1="283.90" x2="146.20" y2="283.90" stroke="#808080" stroke-width="1.0"/>
<text transform="translate(140.30,283.90) rotate(-90)" font-size="7.3" text-anchor="middle" fill="#000">5</text>
<line x1="150.40" y1="268.40" x2="146.20" y2="268.40" stroke="#808080" stroke-width="1.0"/>
<text transform="translate(140.30,268.40) rotate(-90)" font-size="7.3" text-anchor="middle" fill="#000">6</text>
<line x1="150.40" y1="252.90" x2="146.20" y2="252.90" stroke="#808080" stroke-width="1.0"/>
<text transform="translate(140.30,252.90) rotate(-90)" font-size="7.3" text-anchor="middle" fill="#000">7</text>
<text x="222.90" y="396.80" font-size="7" text-anchor="middle" fill="#000">PTPRC expression</text>
<text transform="translate(123.60,305.65) rotate(-90)" font-size="7" text-anchor="middle" fill="#000">LAG3 expression</text>
<text x="450.40" y="230.40" font-size="7" text-anchor="middle" fill="#000" font-weight="bold">Cor=0.844 (p-value=1.711e-129)</text>
<g fill="#0000ff">
<circle cx="434.8" cy="259.7" r="1.75"/>
<circle cx="446.0" cy="265.1" r="1.75"/>
<circle cx="421.0" cy="278.2" r="1.75"/>
<circle cx="432.8" cy="277.7" r="1.75"/>
<circle cx="432.8" cy="283.9" r="1.75"/>
<circle cx="440.1" cy="284.2" r="1.75"/>
<circle cx="446.6" cy="283.9" r="1.75"/>
<circle cx="447.2" cy="286.1" r="1.75"/>
<circle cx="451.1" cy="285.5" r="1.75"/>
<circle cx="431.2" cy="289.2" r="1.75"/>
<circle cx="429.0" cy="292.6" r="1.75"/>
<circle cx="412.9" cy="294.5" r="1.75"/>
<circle cx="424.6" cy="295.3" r="1.75"/>
<circle cx="433.7" cy="294.7" r="1.75"/>
<circle cx="439.3" cy="294.0" r="1.75"/>
<circle cx="443.2" cy="293.4" r="1.75"/>
<circle cx="446.6" cy="293.4" r="1.75"/>
<circle cx="438.7" cy="296.8" r="1.75"/>
<circle cx="441.0" cy="299.0" r="1.75"/>
<circle cx="444.4" cy="296.8" r="1.75"/>
<circle cx="448.9" cy="293.4" r="1.75"/>
<circle cx="450.0" cy="296.8" r="1.75"/>
<circle cx="417.4" cy="300.7" r="1.75"/>
<circle cx="421.3" cy="301.8" r="1.75"/>
<circle cx="425.3" cy="300.1" r="1.75"/>
<circle cx="428.6" cy="301.5" r="1.75"/>
<circle cx="434.3" cy="300.1" r="1.75"/>
<circle cx="435.4" cy="302.4" r="1.75"/>
<circle cx="439.9" cy="301.8" r="1.75"/>
<circle cx="444.4" cy="301.3" r="1.75"/>
<circle cx="448.9" cy="300.1" r="1.75"/>
<circle cx="411.8" cy="302.6" r="1.75"/>
<circle cx="407.3" cy="304.1" r="1.75"/>
<circle cx="423.0" cy="305.2" r="1.75"/>
<circle cx="426.4" cy="303.5" r="1.75"/>
<circle cx="430.9" cy="305.2" r="1.75"/>
<circle cx="437.6" cy="305.2" r="1.75"/>
<circle cx="444.4" cy="304.6" r="1.75"/>
<circle cx="450.0" cy="303.5" r="1.75"/>
<circle cx="487.4" cy="249.4" r="1.75"/>
<circle cx="490.3" cy="252.8" r="1.75"/>
<circle cx="502.7" cy="254.9" r="1.75"/>
<circle cx="481.8" cy="262.9" r="1.75"/>
<circle cx="493.3" cy="267.0" r="1.75"/>
<circle cx="494.5" cy="266.2" r="1.75"/>
<circle cx="471.5" cy="268.5" r="1.75"/>
<circle cx="475.9" cy="270.6" r="1.75"/>
<circle cx="486.6" cy="268.5" r="1.75"/>
<circle cx="488.9" cy="271.8" r="1.75"/>
<circle cx="499.0" cy="270.9" r="1.75"/>
<circle cx="472.6" cy="273.8" r="1.75"/>
<circle cx="479.3" cy="275.2" r="1.75"/>
<circle cx="481.6" cy="277.1" r="1.75"/>
<circle cx="484.9" cy="278.2" r="1.75"/>
<circle cx="490.0" cy="276.6" r="1.75"/>
<circle cx="491.1" cy="277.7" r="1.75"/>
<circle cx="495.6" cy="276.0" r="1.75"/>
<circle cx="498.4" cy="278.2" r="1.75"/>
<circle cx="511.9" cy="276.0" r="1.75"/>
<circle cx="456.3" cy="276.8" r="1.75"/>
<circle cx="463.6" cy="275.8" r="1.75"/>
<circle cx="473.1" cy="277.9" r="1.75"/>
<circle cx="459.1" cy="280.5" r="1.75"/>
<circle cx="463.6" cy="282.2" r="1.75"/>
<circle cx="461.3" cy="283.3" r="1.75"/>
<circle cx="465.8" cy="281.0" r="1.75"/>
<circle cx="469.2" cy="283.9" r="1.75"/>
<circle cx="470.9" cy="282.7" r="1.75"/>
<circle cx="467.0" cy="287.2" r="1.75"/>
<circle cx="484.9" cy="283.9" r="1.75"/>
<circle cx="501.2" cy="283.3" r="1.75"/>
<circle cx="454.1" cy="287.2" r="1.75"/>
<circle cx="459.1" cy="288.3" r="1.75"/>
<circle cx="461.3" cy="290.0" r="1.75"/>
<circle cx="450.1" cy="290.0" r="1.75"/>
<circle cx="451.2" cy="293.4" r="1.75"/>
<circle cx="458.0" cy="292.3" r="1.75"/>
<circle cx="465.8" cy="291.7" r="1.75"/>
<circle cx="469.2" cy="289.5" r="1.75"/>
<circle cx="471.5" cy="291.2" r="1.75"/>
<circle cx="479.9" cy="289.2" r="1.75"/>
<circle cx="497.1" cy="288.1" r="1.75"/>
<circle cx="455.7" cy="296.2" r="1.75"/>
<circle cx="460.2" cy="295.6" r="1.75"/>
<circle cx="464.7" cy="296.2" r="1.75"/>
<circle cx="470.3" cy="295.1" r="1.75"/>
<circle cx="471.5" cy="297.3" r="1.75"/>
<circle cx="517.5" cy="293.2" r="1.75"/>
<circle cx="494.5" cy="296.2" r="1.75"/>
<circle cx="501.2" cy="297.3" r="1.75"/>
<circle cx="458.0" cy="300.1" r="1.75"/>
<circle cx="462.5" cy="300.1" r="1.75"/>
<circle cx="467.0" cy="300.7" r="1.75"/>
<circle cx="472.6" cy="300.1" r="1.75"/>
<circle cx="486.6" cy="299.8" r="1.75"/>
<circle cx="517.5" cy="300.1" r="1.75"/>
<circle cx="517.5" cy="303.5" r="1.75"/>
<circle cx="487.7" cy="304.1" r="1.75"/>
<circle cx="493.3" cy="303.3" r="1.75"/>
<circle cx="455.7" cy="303.5" r="1.75"/>
<circle cx="460.2" cy="304.1" r="1.75"/>
<circle cx="465.8" cy="304.6" r="1.75"/>
<circle cx="451.2" cy="304.6" r="1.75"/>
<circle cx="403.3" cy="307.1" r="1.75"/>
<circle cx="404.2" cy="308.9" r="1.75"/>
<circle cx="412.9" cy="307.7" r="1.75"/>
<circle cx="415.9" cy="306.2" r="1.75"/>
<circle cx="411.7" cy="310.4" r="1.75"/>
<circle cx="412.9" cy="311.6" r="1.75"/>
<circle cx="409.6" cy="314.3" r="1.75"/>
<circle cx="390.9" cy="317.3" r="1.75"/>
<circle cx="389.3" cy="322.4" r="1.75"/>
<circle cx="390.8" cy="324.2" r="1.75"/>
<circle cx="392.6" cy="326.0" r="1.75"/>
<circle cx="417.8" cy="305.6" r="1.75"/>
<circle cx="423.8" cy="303.8" r="1.75"/>
<circle cx="425.0" cy="306.8" r="1.75"/>
<circle cx="423.2" cy="307.4" r="1.75"/>
<circle cx="422.6" cy="312.5" r="1.75"/>
<circle cx="420.8" cy="315.2" r="1.75"/>
<circle cx="424.4" cy="315.2" r="1.75"/>
<circle cx="425.6" cy="317.0" r="1.75"/>
<circle cx="421.4" cy="319.4" r="1.75"/>
<circle cx="414.2" cy="319.4" r="1.75"/>
<circle cx="416.6" cy="320.6" r="1.75"/>
<circle cx="413.6" cy="322.4" r="1.75"/>
<circle cx="414.8" cy="324.8" r="1.75"/>
<circle cx="427.4" cy="310.4" r="1.75"/>
<circle cx="429.8" cy="309.8" r="1.75"/>
<circle cx="431.0" cy="312.2" r="1.75"/>
<circle cx="429.2" cy="314.0" r="1.75"/>
<circle cx="432.8" cy="310.4" r="1.75"/>
<circle cx="431.0" cy="306.8" r="1.75"/>
<circle cx="433.4" cy="307.4" r="1.75"/>
<circle cx="435.8" cy="306.8" r="1.75"/>
<circle cx="438.1" cy="302.6" r="1.75"/>
<circle cx="440.5" cy="303.8" r="1.75"/>
<circle cx="449.5" cy="306.2" r="1.75"/>
<circle cx="438.1" cy="308.0" r="1.75"/>
<circle cx="440.5" cy="306.8" r="1.75"/>
<circle cx="435.8" cy="311.0" r="1.75"/>
<circle cx="432.8" cy="315.8" r="1.75"/>
<circle cx="435.2" cy="315.2" r="1.75"/>
<circle cx="437.6" cy="316.4" r="1.75"/>
<circle cx="433.4" cy="318.2" r="1.75"/>
<circle cx="435.8" cy="319.4" r="1.75"/>
<circle cx="438.1" cy="319.4" r="1.75"/>
<circle cx="440.5" cy="314.0" r="1.75"/>
<circle cx="442.9" cy="315.8" r="1.75"/>
<circle cx="444.7" cy="314.6" r="1.75"/>
<circle cx="441.7" cy="312.8" r="1.75"/>
<circle cx="448.9" cy="315.8" r="1.75"/>
<circle cx="450.7" cy="317.6" r="1.75"/>
<circle cx="452.5" cy="314.0" r="1.75"/>
<circle cx="446.5" cy="324.5" r="1.75"/>
<circle cx="440.5" cy="321.8" r="1.75"/>
<circle cx="438.7" cy="323.6" r="1.75"/>
<circle cx="437.0" cy="324.2" r="1.75"/>
<circle cx="434.0" cy="325.4" r="1.75"/>
<circle cx="432.8" cy="327.1" r="1.75"/>
<circle cx="433.4" cy="328.9" r="1.75"/>
<circle cx="429.8" cy="322.4" r="1.75"/>
<circle cx="428.0" cy="323.6" r="1.75"/>
<circle cx="425.0" cy="323.6" r="1.75"/>
<circle cx="423.8" cy="326.0" r="1.75"/>
<circle cx="427.4" cy="327.1" r="1.75"/>
<circle cx="428.0" cy="330.7" r="1.75"/>
<circle cx="428.0" cy="333.7" r="1.75"/>
<circle cx="429.2" cy="334.9" r="1.75"/>
<circle cx="435.8" cy="334.9" r="1.75"/>
<circle cx="438.7" cy="334.9" r="1.75"/>
<circle cx="418.4" cy="328.3" r="1.75"/>
<circle cx="420.8" cy="328.9" r="1.75"/>
<circle cx="416.6" cy="330.1" r="1.75"/>
<circle cx="419.0" cy="331.9" r="1.75"/>
<circle cx="421.4" cy="332.5" r="1.75"/>
<circle cx="417.8" cy="333.7" r="1.75"/>
<circle cx="414.2" cy="329.5" r="1.75"/>
<circle cx="413.6" cy="333.1" r="1.75"/>
<circle cx="415.4" cy="334.9" r="1.75"/>
<circle cx="426.8" cy="320.0" r="1.75"/>
<circle cx="431.0" cy="319.4" r="1.75"/>
<circle cx="426.8" cy="312.2" r="1.75"/>
<circle cx="428.6" cy="317.0" r="1.75"/>
<circle cx="457.4" cy="304.4" r="1.75"/>
<circle cx="459.2" cy="305.6" r="1.75"/>
<circle cx="464.0" cy="302.3" r="1.75"/>
<circle cx="468.8" cy="306.8" r="1.75"/>
<circle cx="463.4" cy="309.5" r="1.75"/>
<circle cx="464.9" cy="311.0" r="1.75"/>
<circle cx="458.6" cy="311.5" r="1.75"/>
<circle cx="458.9" cy="317.4" r="1.75"/>
<circle cx="461.3" cy="316.7" r="1.75"/>
<circle cx="466.8" cy="316.9" r="1.75"/>
<circle cx="484.9" cy="312.7" r="1.75"/>
<circle cx="481.9" cy="323.7" r="1.75"/>
<circle cx="491.1" cy="316.7" r="1.75"/>
<circle cx="386.9" cy="342.5" r="1.75"/>
<circle cx="410.2" cy="339.5" r="1.75"/>
<circle cx="408.1" cy="341.9" r="1.75"/>
<circle cx="413.8" cy="341.6" r="1.75"/>
<circle cx="408.7" cy="345.8" r="1.75"/>
<circle cx="412.9" cy="345.8" r="1.75"/>
<circle cx="416.5" cy="344.0" r="1.75"/>
<circle cx="411.1" cy="349.4" r="1.75"/>
<circle cx="413.2" cy="352.4" r="1.75"/>
<circle cx="383.0" cy="361.0" r="1.75"/>
<circle cx="413.6" cy="334.7" r="1.75"/>
<circle cx="426.8" cy="336.5" r="1.75"/>
<circle cx="424.4" cy="338.0" r="1.75"/>
<circle cx="420.8" cy="337.4" r="1.75"/>
<circle cx="442.3" cy="295.3" r="1.75"/>
<circle cx="439.6" cy="298.0" r="1.75"/>
<circle cx="444.1" cy="299.8" r="1.75"/>
<circle cx="447.7" cy="298.0" r="1.75"/>
<circle cx="441.4" cy="302.5" r="1.75"/>
<circle cx="445.9" cy="303.4" r="1.75"/>
<circle cx="452.2" cy="291.7" r="1.75"/>
<circle cx="439.6" cy="290.8" r="1.75"/>
<circle cx="454.5" cy="341.7" r="1.75"/>
<circle cx="395.0" cy="326.0" r="1.75"/>
<circle cx="389.2" cy="328.9" r="1.75"/>
<circle cx="413.2" cy="324.7" r="1.75"/>
<circle cx="403.3" cy="332.0" r="1.75"/>
<circle cx="407.7" cy="318.6" r="1.75"/>
<circle cx="409.8" cy="319.6" r="1.75"/>
<circle cx="410.3" cy="328.0" r="1.75"/>
<circle cx="404.2" cy="324.9" r="1.75"/>
<circle cx="396.8" cy="325.0" r="1.75"/>
<circle cx="411.4" cy="325.8" r="1.75"/>
<circle cx="411.6" cy="322.9" r="1.75"/>
<circle cx="396.8" cy="334.7" r="1.75"/>
<circle cx="400.5" cy="321.4" r="1.75"/>
<circle cx="414.8" cy="327.3" r="1.75"/>
<circle cx="404.4" cy="319.0" r="1.75"/>
<circle cx="389.0" cy="332.3" r="1.75"/>
<circle cx="406.5" cy="331.7" r="1.75"/>
<circle cx="406.8" cy="328.2" r="1.75"/>
<circle cx="401.5" cy="320.1" r="1.75"/>
<circle cx="402.0" cy="325.2" r="1.75"/>
<circle cx="406.9" cy="334.4" r="1.75"/>
<circle cx="386.5" cy="330.8" r="1.75"/>
<circle cx="409.4" cy="323.8" r="1.75"/>
<circle cx="390.9" cy="328.2" r="1.75"/>
<circle cx="403.4" cy="326.9" r="1.75"/>
<circle cx="415.1" cy="321.8" r="1.75"/>
<circle cx="401.4" cy="330.5" r="1.75"/>
<circle cx="400.4" cy="323.1" r="1.75"/>
<circle cx="391.7" cy="333.8" r="1.75"/>
<circle cx="408.1" cy="320.8" r="1.75"/>
<circle cx="404.2" cy="329.9" r="1.75"/>
<circle cx="398.2" cy="332.0" r="1.75"/>
<circle cx="395.4" cy="332.9" r="1.75"/>
<circle cx="400.1" cy="331.5" r="1.75"/>
<circle cx="411.6" cy="329.3" r="1.75"/>
<circle cx="398.2" cy="323.4" r="1.75"/>
<circle cx="415.4" cy="332.7" r="1.75"/>
<circle cx="390.3" cy="331.2" r="1.75"/>
<circle cx="393.3" cy="327.6" r="1.75"/>
<circle cx="407.4" cy="330.1" r="1.75"/>
<circle cx="389.3" cy="334.6" r="1.75"/>
<circle cx="408.2" cy="331.8" r="1.75"/>
<circle cx="397.1" cy="338.3" r="1.75"/>
<circle cx="387.2" cy="357.1" r="1.75"/>
<circle cx="391.2" cy="351.0" r="1.75"/>
<circle cx="396.8" cy="345.7" r="1.75"/>
<circle cx="389.6" cy="356.5" r="1.75"/>
<circle cx="394.4" cy="349.6" r="1.75"/>
<circle cx="399.6" cy="347.7" r="1.75"/>
<circle cx="388.9" cy="352.1" r="1.75"/>
<circle cx="402.6" cy="336.0" r="1.75"/>
<circle cx="398.2" cy="336.7" r="1.75"/>
<circle cx="385.5" cy="353.0" r="1.75"/>
<circle cx="388.2" cy="345.4" r="1.75"/>
<circle cx="385.1" cy="354.7" r="1.75"/>
<circle cx="399.9" cy="338.5" r="1.75"/>
<circle cx="398.7" cy="334.8" r="1.75"/>
<circle cx="403.5" cy="345.5" r="1.75"/>
<circle cx="399.1" cy="343.7" r="1.75"/>
<circle cx="402.7" cy="340.6" r="1.75"/>
<circle cx="391.5" cy="343.4" r="1.75"/>
<circle cx="400.3" cy="334.4" r="1.75"/>
<circle cx="396.8" cy="340.8" r="1.75"/>
<circle cx="405.4" cy="336.7" r="1.75"/>
<circle cx="396.0" cy="349.6" r="1.75"/>
<circle cx="400.0" cy="341.5" r="1.75"/>
<circle cx="404.2" cy="338.0" r="1.75"/>
<circle cx="392.0" cy="348.9" r="1.75"/>
<circle cx="394.4" cy="345.9" r="1.75"/>
<circle cx="391.1" cy="354.7" r="1.75"/>
<circle cx="386.5" cy="349.0" r="1.75"/>
<circle cx="391.4" cy="345.3" r="1.75"/>
<circle cx="393.5" cy="341.8" r="1.75"/>
<circle cx="385.5" cy="347.8" r="1.75"/>
<circle cx="384.6" cy="357.9" r="1.75"/>
<circle cx="388.6" cy="354.8" r="1.75"/>
<circle cx="386.6" cy="351.2" r="1.75"/>
<circle cx="402.0" cy="343.0" r="1.75"/>
<circle cx="394.6" cy="340.5" r="1.75"/>
<circle cx="388.7" cy="358.2" r="1.75"/>
<circle cx="389.7" cy="344.1" r="1.75"/>
<circle cx="400.9" cy="346.1" r="1.75"/>
<circle cx="386.0" cy="359.1" r="1.75"/>
<circle cx="398.1" cy="339.7" r="1.75"/>
<circle cx="403.1" cy="333.7" r="1.75"/>
<circle cx="389.2" cy="350.4" r="1.75"/>
<circle cx="401.8" cy="347.9" r="1.75"/>
<circle cx="393.7" cy="351.6" r="1.75"/>
<circle cx="405.3" cy="334.1" r="1.75"/>
<circle cx="393.3" cy="338.7" r="1.75"/>
<circle cx="384.5" cy="349.7" r="1.75"/>
<circle cx="395.2" cy="339.0" r="1.75"/>
<circle cx="392.2" cy="352.6" r="1.75"/>
<circle cx="393.5" cy="344.4" r="1.75"/>
<circle cx="400.8" cy="336.6" r="1.75"/>
<circle cx="404.4" cy="347.3" r="1.75"/>
<circle cx="397.9" cy="348.3" r="1.75"/>
<circle cx="390.1" cy="353.3" r="1.75"/>
<circle cx="404.2" cy="335.5" r="1.75"/>
<circle cx="384.0" cy="351.6" r="1.75"/>
</g>
<line x1="383.40" y1="346.60" x2="517.60" y2="260.40" stroke="#ff0000" stroke-width="0.7"/>
<rect x="377.60" y="245.40" width="145.60" height="119.80" fill="none" stroke="#808080" stroke-width="1.0"/>
<line x1="382.50" y1="365.20" x2="382.50" y2="369.30" stroke="#808080" stroke-width="1.0"/>
<text x="382.50" y="380.60" font-size="7.3" text-anchor="middle" fill="#000">0</text>
<line x1="402.73" y1="365.20" x2="402.73" y2="369.30" stroke="#808080" stroke-width="1.0"/>
<text x="402.73" y="380.60" font-size="7.3" text-anchor="middle" fill="#000">1</text>
<line x1="422.96" y1="365.20" x2="422.96" y2="369.30" stroke="#808080" stroke-width="1.0"/>
<text x="422.96" y="380.60" font-size="7.3" text-anchor="middle" fill="#000">2</text>
<line x1="443.19" y1="365.20" x2="443.19" y2="369.30" stroke="#808080" stroke-width="1.0"/>
<text x="443.19" y="380.60" font-size="7.3" text-anchor="middle" fill="#000">3</text>
<line x1="463.42" y1="365.20" x2="463.42" y2="369.30" stroke="#808080" stroke-width="1.0"/>
<text x="463.42" y="380.60" font-size="7.3" text-anchor="middle" fill="#000">4</text>
<line x1="483.65" y1="365.20" x2="483.65" y2="369.30" stroke="#808080" stroke-width="1.0"/>
<text x="483.65" y="380.60" font-size="7.3" text-anchor="middle" fill="#000">5</text>
<line x1="503.88" y1="365.20" x2="503.88" y2="369.30" stroke="#808080" stroke-width="1.0"/>
<text x="503.88" y="380.60" font-size="7.3" text-anchor="middle" fill="#000">6</text>
<line x1="377.60" y1="362.50" x2="373.40" y2="362.50" stroke="#808080" stroke-width="1.0"/>
<text transform="translate(368.50,362.50) rotate(-90)" font-size="7.3" text-anchor="middle" fill="#000">0</text>
<line x1="377.60" y1="342.13" x2="373.40" y2="342.13" stroke="#808080" stroke-width="1.0"/>
<text transform="translate(368.50,342.13) rotate(-90)" font-size="7.3" text-anchor="middle" fill="#000">1</text>
<line x1="377.60" y1="321.76" x2="373.40" y2="321.76" stroke="#808080" stroke-width="1.0"/>
<text transform="translate(368.50,321.76) rotate(-90)" font-size="7.3" text-anchor="middle" fill="#000">2</text>
<line x1="377.60" y1="301.39" x2="373.40" y2="301.39" stroke="#808080" stroke-width="1.0"/>
<text transform="translate(368.50,301.39) rotate(-90)" font-size="7.3" text-anchor="middle" fill="#000">3</text>
<line x1="377.60" y1="281.02" x2="373.40" y2="281.02" stroke="#808080" stroke-width="1.0"/>
<text transform="translate(368.50,281.02) rotate(-90)" font-size="7.3" text-anchor="middle" fill="#000">4</text>
<line x1="377.60" y1="260.65" x2="373.40" y2="260.65" stroke="#808080" stroke-width="1.0"/>
<text transform="translate(368.50,260.65) rotate(-90)" font-size="7.3" text-anchor="middle" fill="#000">5</text>
<text x="450.40" y="396.80" font-size="7" text-anchor="middle" fill="#000">PTPRC expression</text>
<text transform="translate(350.80,306.00) rotate(-90)" font-size="7" text-anchor="middle" fill="#000">HAVCR2 expression</text>
<text transform="translate(2.3,17.0) scale(0.92,1)" font-size="29" fill="#000">a</text>
<text x="3.00" y="428.70" font-size="29" text-anchor="start" fill="#000">b</text>
<text x="231.50" y="428.70" font-size="29" text-anchor="start" fill="#000">c</text>
<text x="461.50" y="428.70" font-size="29" text-anchor="start" fill="#000">d</text>
<line x1="76.50" y1="477.20" x2="76.50" y2="459.30" stroke="#444" stroke-width="0.6" stroke-dasharray="2,1.5"/>
<line x1="76.50" y1="491.20" x2="76.50" y2="508.50" stroke="#444" stroke-width="0.6" stroke-dasharray="2,1.5"/>
<line x1="61.60" y1="459.30" x2="91.10" y2="459.30" stroke="#555" stroke-width="0.9"/>
<line x1="61.60" y1="508.50" x2="91.10" y2="508.50" stroke="#555" stroke-width="0.9"/>
<rect x="47.20" y="477.20" width="58.20" height="14.00" fill="none" stroke="#555" stroke-width="0.85"/>
<line x1="47.20" y1="483.20" x2="105.40" y2="483.20" stroke="#1a1a1a" stroke-width="1.6"/>
<g fill="#0000ff">
<circle cx="74.9" cy="459.7" r="1.45"/>
<circle cx="79.0" cy="461.1" r="1.45"/>
<circle cx="76.1" cy="462.7" r="1.45"/>
<circle cx="73.6" cy="465.8" r="1.45"/>
<circle cx="76.3" cy="466.8" r="1.45"/>
<circle cx="79.1" cy="468.3" r="1.45"/>
<circle cx="73.5" cy="470.0" r="1.45"/>
<circle cx="77.1" cy="470.7" r="1.45"/>
<circle cx="67.9" cy="472.3" r="1.45"/>
<circle cx="70.9" cy="472.9" r="1.45"/>
<circle cx="74.9" cy="472.9" r="1.45"/>
<circle cx="81.9" cy="473.1" r="1.45"/>
<circle cx="84.8" cy="471.9" r="1.45"/>
<circle cx="79.0" cy="473.9" r="1.45"/>
<circle cx="72.9" cy="475.0" r="1.45"/>
<circle cx="76.1" cy="475.3" r="1.45"/>
<circle cx="88.1" cy="475.1" r="1.45"/>
<circle cx="64.5" cy="475.3" r="1.45"/>
<circle cx="67.3" cy="476.7" r="1.45"/>
<circle cx="70.5" cy="477.0" r="1.45"/>
<circle cx="74.2" cy="477.3" r="1.45"/>
<circle cx="77.4" cy="478.1" r="1.45"/>
<circle cx="80.2" cy="477.0" r="1.45"/>
<circle cx="83.0" cy="476.7" r="1.45"/>
<circle cx="86.5" cy="477.6" r="1.45"/>
<circle cx="91.5" cy="477.3" r="1.45"/>
<circle cx="61.7" cy="477.3" r="1.45"/>
<circle cx="63.9" cy="479.7" r="1.45"/>
<circle cx="67.9" cy="479.7" r="1.45"/>
<circle cx="71.1" cy="479.8" r="1.45"/>
<circle cx="75.5" cy="480.2" r="1.45"/>
<circle cx="81.2" cy="479.8" r="1.45"/>
<circle cx="84.2" cy="479.8" r="1.45"/>
<circle cx="88.7" cy="479.2" r="1.45"/>
<circle cx="65.4" cy="482.0" r="1.45"/>
<circle cx="73.0" cy="482.4" r="1.45"/>
<circle cx="78.6" cy="482.0" r="1.45"/>
<circle cx="86.8" cy="482.0" r="1.45"/>
<circle cx="57.3" cy="483.0" r="1.45"/>
<circle cx="59.8" cy="483.9" r="1.45"/>
<circle cx="62.9" cy="484.6" r="1.45"/>
<circle cx="68.6" cy="483.9" r="1.45"/>
<circle cx="71.7" cy="484.6" r="1.45"/>
<circle cx="74.9" cy="483.3" r="1.45"/>
<circle cx="76.8" cy="484.2" r="1.45"/>
<circle cx="81.8" cy="483.9" r="1.45"/>
<circle cx="84.9" cy="483.6" r="1.45"/>
<circle cx="90.0" cy="483.3" r="1.45"/>
<circle cx="92.5" cy="483.0" r="1.45"/>
<circle cx="95.0" cy="483.2" r="1.45"/>
<circle cx="66.1" cy="485.8" r="1.45"/>
<circle cx="69.2" cy="487.4" r="1.45"/>
<circle cx="72.4" cy="486.8" r="1.45"/>
<circle cx="75.5" cy="486.4" r="1.45"/>
<circle cx="78.0" cy="485.8" r="1.45"/>
<circle cx="81.2" cy="487.4" r="1.45"/>
<circle cx="83.7" cy="486.4" r="1.45"/>
<circle cx="86.8" cy="485.8" r="1.45"/>
<circle cx="90.0" cy="485.2" r="1.45"/>
<circle cx="74.9" cy="489.0" r="1.45"/>
<circle cx="78.6" cy="489.0" r="1.45"/>
<circle cx="71.7" cy="489.0" r="1.45"/>
<circle cx="66.7" cy="491.2" r="1.45"/>
<circle cx="69.2" cy="492.6" r="1.45"/>
<circle cx="72.0" cy="493.2" r="1.45"/>
<circle cx="74.9" cy="494.2" r="1.45"/>
<circle cx="76.1" cy="491.6" r="1.45"/>
<circle cx="79.3" cy="494.8" r="1.45"/>
<circle cx="81.5" cy="492.5" r="1.45"/>
<circle cx="84.0" cy="491.3" r="1.45"/>
<circle cx="84.0" cy="495.4" r="1.45"/>
<circle cx="69.2" cy="495.7" r="1.45"/>
<circle cx="73.0" cy="496.7" r="1.45"/>
<circle cx="76.8" cy="496.7" r="1.45"/>
<circle cx="81.5" cy="497.6" r="1.45"/>
<circle cx="73.0" cy="499.2" r="1.45"/>
<circle cx="76.1" cy="499.8" r="1.45"/>
<circle cx="79.1" cy="499.4" r="1.45"/>
<circle cx="71.0" cy="502.3" r="1.45"/>
<circle cx="73.9" cy="502.6" r="1.45"/>
<circle cx="81.8" cy="502.0" r="1.45"/>
<circle cx="76.1" cy="504.8" r="1.45"/>
<circle cx="79.0" cy="504.1" r="1.45"/>
<circle cx="76.1" cy="508.9" r="1.45"/>
</g>
<line x1="149.40" y1="469.20" x2="149.40" y2="458.00" stroke="#444" stroke-width="0.6" stroke-dasharray="2,1.5"/>
<line x1="149.40" y1="483.50" x2="149.40" y2="498.60" stroke="#444" stroke-width="0.6" stroke-dasharray="2,1.5"/>
<line x1="135.00" y1="458.00" x2="163.80" y2="458.00" stroke="#555" stroke-width="0.9"/>
<line x1="135.00" y1="498.60" x2="163.80" y2="498.60" stroke="#555" stroke-width="0.9"/>
<rect x="120.10" y="469.20" width="58.40" height="14.30" fill="none" stroke="#555" stroke-width="0.85"/>
<line x1="120.10" y1="475.80" x2="178.50" y2="475.80" stroke="#1a1a1a" stroke-width="1.6"/>
<g fill="#ff0000">
<circle cx="147.6" cy="458.0" r="1.45"/>
<circle cx="151.6" cy="458.4" r="1.45"/>
<circle cx="149.4" cy="460.6" r="1.45"/>
<circle cx="149.4" cy="464.0" r="1.45"/>
<circle cx="147.0" cy="468.1" r="1.45"/>
<circle cx="151.2" cy="467.9" r="1.45"/>
<circle cx="149.0" cy="470.0" r="1.45"/>
<circle cx="153.6" cy="470.2" r="1.45"/>
<circle cx="146.3" cy="472.2" r="1.45"/>
<circle cx="150.1" cy="472.8" r="1.45"/>
<circle cx="152.3" cy="473.0" r="1.45"/>
<circle cx="147.0" cy="476.4" r="1.45"/>
<circle cx="150.1" cy="476.9" r="1.45"/>
<circle cx="152.9" cy="475.8" r="1.45"/>
<circle cx="149.4" cy="479.9" r="1.45"/>
<circle cx="146.4" cy="482.9" r="1.45"/>
<circle cx="149.4" cy="483.9" r="1.45"/>
<circle cx="152.3" cy="483.9" r="1.45"/>
<circle cx="154.8" cy="482.0" r="1.45"/>
<circle cx="146.4" cy="492.3" r="1.45"/>
<circle cx="149.4" cy="493.8" r="1.45"/>
<circle cx="152.3" cy="493.4" r="1.45"/>
<circle cx="149.4" cy="498.6" r="1.45"/>
</g>
<rect x="34.10" y="428.70" width="157.90" height="135.50" fill="none" stroke="#808080" stroke-width="1.0"/>
<line x1="34.10" y1="559.30" x2="29.90" y2="559.30" stroke="#808080" stroke-width="1.0"/>
<text transform="translate(25.00,559.30) rotate(-90)" font-size="7.4" text-anchor="middle" fill="#000">0</text>
<line x1="34.10" y1="528.00" x2="29.90" y2="528.00" stroke="#808080" stroke-width="1.0"/>
<text transform="translate(25.00,528.00) rotate(-90)" font-size="7.4" text-anchor="middle" fill="#000">5</text>
<line x1="34.10" y1="496.70" x2="29.90" y2="496.70" stroke="#808080" stroke-width="1.0"/>
<text transform="translate(25.00,496.70) rotate(-90)" font-size="7.4" text-anchor="middle" fill="#000">10</text>
<line x1="34.10" y1="465.40" x2="29.90" y2="465.40" stroke="#808080" stroke-width="1.0"/>
<text transform="translate(25.00,465.40) rotate(-90)" font-size="7.4" text-anchor="middle" fill="#000">15</text>
<line x1="34.10" y1="434.10" x2="29.90" y2="434.10" stroke="#808080" stroke-width="1.0"/>
<text transform="translate(25.00,434.10) rotate(-90)" font-size="7.4" text-anchor="middle" fill="#000">20</text>
<line x1="76.50" y1="564.20" x2="76.50" y2="567.70" stroke="#808080" stroke-width="1.0"/>
<text x="87.60" y="578.00" font-size="7.3" text-anchor="middle" fill="#000">Nonresponder</text>
<line x1="149.40" y1="564.20" x2="149.40" y2="567.70" stroke="#808080" stroke-width="1.0"/>
<text x="157.00" y="578.00" font-size="7.3" text-anchor="middle" fill="#000">Responder</text>
<polyline points="76.6,446.3 76.6,441.3 149.4,441.3 149.4,446.3" fill="none" stroke="#555" stroke-width="0.9"/>
<text x="112.70" y="437.20" font-size="7.3" text-anchor="middle" fill="#000">p=0.005</text>
<text transform="translate(10.00,496.45) rotate(-90)" font-size="8.3" text-anchor="middle" fill="#000">PTPRC expression</text>
<line x1="550.50" y1="476.70" x2="550.50" y2="460.20" stroke="#444" stroke-width="0.6" stroke-dasharray="2,1.5"/>
<line x1="550.50" y1="492.20" x2="550.50" y2="508.50" stroke="#444" stroke-width="0.6" stroke-dasharray="2,1.5"/>
<line x1="535.90" y1="460.20" x2="564.60" y2="460.20" stroke="#555" stroke-width="0.9"/>
<line x1="535.90" y1="508.50" x2="564.60" y2="508.50" stroke="#555" stroke-width="0.9"/>
<rect x="521.00" y="476.70" width="58.80" height="15.50" fill="none" stroke="#555" stroke-width="0.85"/>
<line x1="521.00" y1="483.00" x2="579.80" y2="483.00" stroke="#1a1a1a" stroke-width="1.6"/>
<g fill="#0000ff">
<circle cx="550.3" cy="460.0" r="1.45"/>
<circle cx="549.5" cy="466.2" r="1.45"/>
<circle cx="552.5" cy="467.3" r="1.45"/>
<circle cx="550.1" cy="469.8" r="1.45"/>
<circle cx="546.0" cy="471.9" r="1.45"/>
<circle cx="549.0" cy="472.1" r="1.45"/>
<circle cx="555.0" cy="471.7" r="1.45"/>
<circle cx="553.0" cy="473.9" r="1.45"/>
<circle cx="539.9" cy="474.8" r="1.45"/>
<circle cx="550.3" cy="475.3" r="1.45"/>
<circle cx="542.3" cy="476.4" r="1.45"/>
<circle cx="545.7" cy="476.7" r="1.45"/>
<circle cx="558.9" cy="475.9" r="1.45"/>
<circle cx="555.9" cy="476.7" r="1.45"/>
<circle cx="553.0" cy="477.0" r="1.45"/>
<circle cx="548.2" cy="478.3" r="1.45"/>
<circle cx="543.2" cy="479.5" r="1.45"/>
<circle cx="550.8" cy="479.7" r="1.45"/>
<circle cx="555.8" cy="480.2" r="1.45"/>
<circle cx="558.6" cy="479.0" r="1.45"/>
<circle cx="539.7" cy="482.4" r="1.45"/>
<circle cx="545.7" cy="481.7" r="1.45"/>
<circle cx="548.9" cy="482.0" r="1.45"/>
<circle cx="553.0" cy="481.9" r="1.45"/>
<circle cx="541.9" cy="484.2" r="1.45"/>
<circle cx="545.1" cy="484.2" r="1.45"/>
<circle cx="547.9" cy="484.6" r="1.45"/>
<circle cx="550.8" cy="483.6" r="1.45"/>
<circle cx="555.8" cy="484.2" r="1.45"/>
<circle cx="558.3" cy="483.2" r="1.45"/>
<circle cx="561.4" cy="482.7" r="1.45"/>
<circle cx="550.1" cy="487.1" r="1.45"/>
<circle cx="553.0" cy="485.9" r="1.45"/>
<circle cx="550.1" cy="490.7" r="1.45"/>
<circle cx="538.2" cy="491.9" r="1.45"/>
<circle cx="541.3" cy="491.9" r="1.45"/>
<circle cx="544.5" cy="492.9" r="1.45"/>
<circle cx="547.3" cy="492.9" r="1.45"/>
<circle cx="550.1" cy="493.8" r="1.45"/>
<circle cx="553.0" cy="493.2" r="1.45"/>
<circle cx="555.8" cy="492.3" r="1.45"/>
<circle cx="558.9" cy="492.1" r="1.45"/>
<circle cx="562.1" cy="491.2" r="1.45"/>
<circle cx="544.8" cy="497.0" r="1.45"/>
<circle cx="547.3" cy="498.9" r="1.45"/>
<circle cx="550.1" cy="498.9" r="1.45"/>
<circle cx="553.3" cy="498.7" r="1.45"/>
<circle cx="548.9" cy="501.7" r="1.45"/>
<circle cx="552.3" cy="502.1" r="1.45"/>
<circle cx="550.1" cy="504.4" r="1.45"/>
<circle cx="550.1" cy="508.5" r="1.45"/>
</g>
<line x1="623.50" y1="472.40" x2="623.50" y2="457.50" stroke="#444" stroke-width="0.6" stroke-dasharray="2,1.5"/>
<line x1="623.50" y1="486.60" x2="623.50" y2="503.30" stroke="#444" stroke-width="0.6" stroke-dasharray="2,1.5"/>
<line x1="609.00" y1="457.50" x2="638.40" y2="457.50" stroke="#555" stroke-width="0.9"/>
<line x1="609.00" y1="503.30" x2="638.40" y2="503.30" stroke="#555" stroke-width="0.9"/>
<rect x="594.30" y="472.40" width="58.80" height="14.20" fill="none" stroke="#555" stroke-width="0.85"/>
<line x1="594.30" y1="479.00" x2="653.10" y2="479.00" stroke="#1a1a1a" stroke-width="1.6"/>
<g fill="#ff0000">
<circle cx="622.3" cy="457.9" r="1.45"/>
<circle cx="627.7" cy="457.4" r="1.45"/>
<circle cx="624.8" cy="459.2" r="1.45"/>
<circle cx="620.5" cy="460.8" r="1.45"/>
<circle cx="623.3" cy="461.9" r="1.45"/>
<circle cx="626.2" cy="463.4" r="1.45"/>
<circle cx="623.6" cy="465.3" r="1.45"/>
<circle cx="621.2" cy="467.8" r="1.45"/>
<circle cx="626.0" cy="467.8" r="1.45"/>
<circle cx="615.3" cy="469.6" r="1.45"/>
<circle cx="623.7" cy="469.6" r="1.45"/>
<circle cx="628.6" cy="470.3" r="1.45"/>
<circle cx="617.8" cy="471.3" r="1.45"/>
<circle cx="620.8" cy="472.5" r="1.45"/>
<circle cx="623.7" cy="473.0" r="1.45"/>
<circle cx="626.7" cy="472.8" r="1.45"/>
<circle cx="632.0" cy="472.3" r="1.45"/>
<circle cx="616.4" cy="474.6" r="1.45"/>
<circle cx="619.0" cy="475.1" r="1.45"/>
<circle cx="621.9" cy="476.1" r="1.45"/>
<circle cx="624.8" cy="477.0" r="1.45"/>
<circle cx="627.7" cy="476.1" r="1.45"/>
<circle cx="630.5" cy="474.8" r="1.45"/>
<circle cx="611.5" cy="477.1" r="1.45"/>
<circle cx="614.4" cy="477.7" r="1.45"/>
<circle cx="617.2" cy="479.2" r="1.45"/>
<circle cx="620.1" cy="479.3" r="1.45"/>
<circle cx="623.0" cy="479.4" r="1.45"/>
<circle cx="625.5" cy="478.9" r="1.45"/>
<circle cx="628.0" cy="479.2" r="1.45"/>
<circle cx="630.9" cy="479.2" r="1.45"/>
<circle cx="633.4" cy="477.1" r="1.45"/>
<circle cx="611.5" cy="481.5" r="1.45"/>
<circle cx="625.5" cy="481.3" r="1.45"/>
<circle cx="637.4" cy="481.5" r="1.45"/>
<circle cx="635.2" cy="481.5" r="1.45"/>
<circle cx="614.4" cy="483.3" r="1.45"/>
<circle cx="618.7" cy="483.3" r="1.45"/>
<circle cx="623.0" cy="482.9" r="1.45"/>
<circle cx="625.9" cy="484.3" r="1.45"/>
<circle cx="628.7" cy="483.5" r="1.45"/>
<circle cx="631.6" cy="483.8" r="1.45"/>
<circle cx="616.2" cy="485.8" r="1.45"/>
<circle cx="620.8" cy="485.6" r="1.45"/>
<circle cx="623.7" cy="486.1" r="1.45"/>
<circle cx="618.3" cy="487.8" r="1.45"/>
<circle cx="621.2" cy="488.5" r="1.45"/>
<circle cx="625.9" cy="489.0" r="1.45"/>
<circle cx="628.6" cy="487.6" r="1.45"/>
<circle cx="623.6" cy="490.9" r="1.45"/>
<circle cx="615.9" cy="494.3" r="1.45"/>
<circle cx="618.8" cy="495.3" r="1.45"/>
<circle cx="621.9" cy="496.0" r="1.45"/>
<circle cx="625.9" cy="496.2" r="1.45"/>
<circle cx="628.7" cy="495.3" r="1.45"/>
<circle cx="623.6" cy="498.3" r="1.45"/>
<circle cx="621.4" cy="501.2" r="1.45"/>
<circle cx="626.0" cy="502.2" r="1.45"/>
<circle cx="623.7" cy="503.7" r="1.45"/>
</g>
<rect x="507.50" y="428.40" width="159.10" height="135.80" fill="none" stroke="#808080" stroke-width="1.0"/>
<line x1="507.50" y1="559.30" x2="503.30" y2="559.30" stroke="#808080" stroke-width="1.0"/>
<text transform="translate(499.00,559.30) rotate(-90)" font-size="7.4" text-anchor="middle" fill="#000">0</text>
<line x1="507.50" y1="527.80" x2="503.30" y2="527.80" stroke="#808080" stroke-width="1.0"/>
<text transform="translate(499.00,527.80) rotate(-90)" font-size="7.4" text-anchor="middle" fill="#000">5</text>
<line x1="507.50" y1="496.30" x2="503.30" y2="496.30" stroke="#808080" stroke-width="1.0"/>
<text transform="translate(499.00,496.30) rotate(-90)" font-size="7.4" text-anchor="middle" fill="#000">10</text>
<line x1="507.50" y1="464.80" x2="503.30" y2="464.80" stroke="#808080" stroke-width="1.0"/>
<text transform="translate(499.00,464.80) rotate(-90)" font-size="7.4" text-anchor="middle" fill="#000">15</text>
<line x1="507.50" y1="433.30" x2="503.30" y2="433.30" stroke="#808080" stroke-width="1.0"/>
<text transform="translate(499.00,433.30) rotate(-90)" font-size="7.4" text-anchor="middle" fill="#000">20</text>
<line x1="550.30" y1="564.20" x2="550.30" y2="567.70" stroke="#808080" stroke-width="1.0"/>
<text x="552.60" y="578.00" font-size="7.3" text-anchor="middle" fill="#000">Pre-treatment</text>
<line x1="623.40" y1="564.20" x2="623.40" y2="567.70" stroke="#808080" stroke-width="1.0"/>
<text x="625.00" y="578.00" font-size="7.3" text-anchor="middle" fill="#000">On-treatment</text>
<polyline points="550.6,445.8 550.6,441.0 623.4,441.0 623.4,445.8" fill="none" stroke="#555" stroke-width="0.9"/>
<text x="586.90" y="436.80" font-size="7.3" text-anchor="middle" fill="#000">p=0.049</text>
<text transform="translate(483.70,496.30) rotate(-90)" font-size="8.3" text-anchor="middle" fill="#000">PTPRC expression</text>
<line x1="255.60" y1="441.30" x2="255.60" y2="543.40" stroke="#ebebeb" stroke-width="0.6"/>
<line x1="295.00" y1="441.30" x2="295.00" y2="543.40" stroke="#ebebeb" stroke-width="0.6"/>
<line x1="334.40" y1="441.30" x2="334.40" y2="543.40" stroke="#ebebeb" stroke-width="0.6"/>
<line x1="373.80" y1="441.30" x2="373.80" y2="543.40" stroke="#ebebeb" stroke-width="0.6"/>
<line x1="413.20" y1="441.30" x2="413.20" y2="543.40" stroke="#ebebeb" stroke-width="0.6"/>
<line x1="275.30" y1="441.30" x2="275.30" y2="543.40" stroke="#f4f4f4" stroke-width="0.4"/>
<line x1="314.70" y1="441.30" x2="314.70" y2="543.40" stroke="#f4f4f4" stroke-width="0.4"/>
<line x1="354.10" y1="441.30" x2="354.10" y2="543.40" stroke="#f4f4f4" stroke-width="0.4"/>
<line x1="393.50" y1="441.30" x2="393.50" y2="543.40" stroke="#f4f4f4" stroke-width="0.4"/>
<line x1="248.20" y1="469.50" x2="421.50" y2="469.50" stroke="#ebebeb" stroke-width="0.6"/>
<line x1="248.20" y1="516.00" x2="421.50" y2="516.00" stroke="#ebebeb" stroke-width="0.6"/>
<rect x="255.60" y="453.40" width="47.28" height="32.30" fill="#00ff00" stroke="none" stroke-width="1"/>
<rect x="302.88" y="453.40" width="110.32" height="32.30" fill="#ff0000" stroke="none" stroke-width="1"/>
<rect x="255.60" y="499.80" width="21.12" height="32.30" fill="#00ff00" stroke="none" stroke-width="1"/>
<rect x="276.72" y="499.80" width="136.48" height="32.30" fill="#ff0000" stroke="none" stroke-width="1"/>
<rect x="248.20" y="441.30" width="173.30" height="102.10" fill="none" stroke="#555" stroke-width="0.8"/>
<text x="279.30" y="471.20" font-size="5.2" text-anchor="middle" fill="#111">30%</text>
<text x="358.20" y="471.00" font-size="5.2" text-anchor="middle" fill="#111">70%</text>
<text x="266.30" y="518.00" font-size="5.2" text-anchor="middle" fill="#111">13%</text>
<text x="344.90" y="518.00" font-size="5.2" text-anchor="middle" fill="#111">87%</text>
<line x1="246.60" y1="469.50" x2="248.20" y2="469.50" stroke="#333" stroke-width="0.6"/>
<text x="244.90" y="471.40" font-size="5.3" text-anchor="end" fill="#333">Low risk</text>
<line x1="246.60" y1="516.20" x2="248.20" y2="516.20" stroke="#333" stroke-width="0.6"/>
<text x="244.90" y="518.10" font-size="5.3" text-anchor="end" fill="#333">High risk</text>
<line x1="255.60" y1="543.40" x2="255.60" y2="545.00" stroke="#333" stroke-width="0.6"/>
<text x="255.60" y="550.60" font-size="5" text-anchor="middle" fill="#4d4d4d">0</text>
<line x1="295.00" y1="543.40" x2="295.00" y2="545.00" stroke="#333" stroke-width="0.6"/>
<text x="295.00" y="550.60" font-size="5" text-anchor="middle" fill="#4d4d4d">25</text>
<line x1="334.40" y1="543.40" x2="334.40" y2="545.00" stroke="#333" stroke-width="0.6"/>
<text x="334.40" y="550.60" font-size="5" text-anchor="middle" fill="#4d4d4d">50</text>
<line x1="373.80" y1="543.40" x2="373.80" y2="545.00" stroke="#333" stroke-width="0.6"/>
<text x="373.80" y="550.60" font-size="5" text-anchor="middle" fill="#4d4d4d">75</text>
<line x1="413.20" y1="543.40" x2="413.20" y2="545.00" stroke="#333" stroke-width="0.6"/>
<text x="413.20" y="550.60" font-size="5" text-anchor="middle" fill="#4d4d4d">100</text>
<text x="334.50" y="557.80" font-size="6.3" text-anchor="middle" fill="#111">Percent</text>
<text x="432.30" y="483.70" font-size="6.3" text-anchor="start" fill="#111">Status</text>
<rect x="431.00" y="487.60" width="9.10" height="9.10" fill="#ff0000" stroke="none" stroke-width="1"/>
<rect x="431.00" y="497.60" width="9.10" height="9.20" fill="#00ff00" stroke="none" stroke-width="1"/>
<text x="443.90" y="494.00" font-size="5.1" text-anchor="start" fill="#000">PD/SD</text>
<text x="443.90" y="504.00" font-size="5.1" text-anchor="start" fill="#000">PR/CR</text>
</svg>
</body></html>
